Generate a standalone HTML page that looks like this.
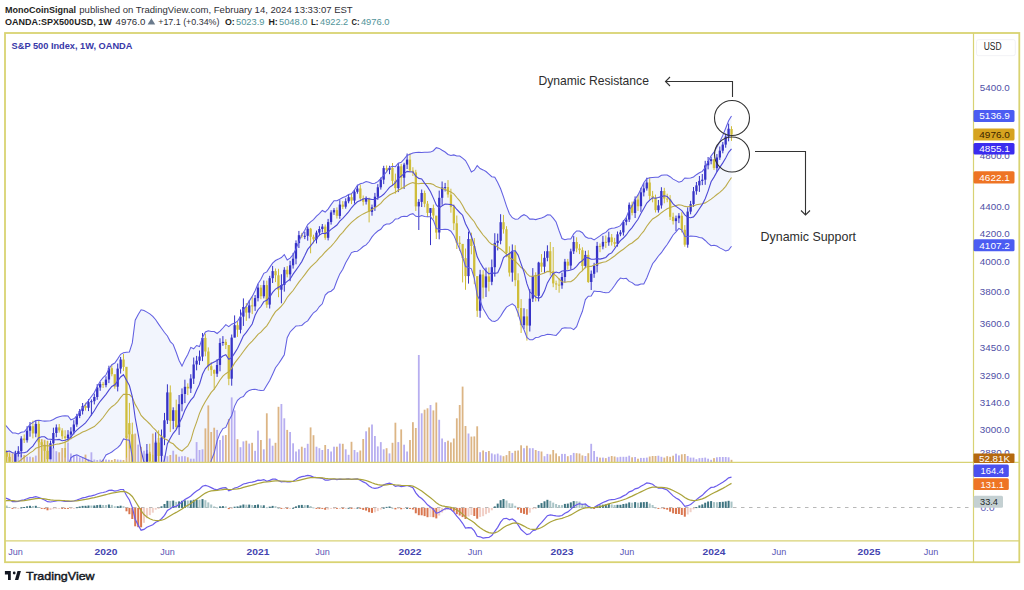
<!DOCTYPE html>
<html><head><meta charset="utf-8">
<style>
html,body{margin:0;padding:0;background:#fff;width:1024px;height:590px;overflow:hidden;}
body{position:relative;font-family:"Liberation Sans",sans-serif;}
svg{position:absolute;left:0;top:0;font-family:"Liberation Sans",sans-serif;}
.ax{font-size:9.5px;fill:#4f4fa6;}
.lt{font-size:9.3px;fill:#ffffff;}
.tm{font-size:9px;fill:#5a55b5;}
.yr{font-size:9px;fill:#4444b0;font-weight:bold;}
</style></head><body>
<svg width="1024" height="590" viewBox="0 0 1024 590">
<defs><clipPath id="cm"><rect x="5" y="34" width="968" height="428"/></clipPath>
<clipPath id="cd"><rect x="5" y="463" width="968" height="77"/></clipPath></defs>
<!-- header -->
<g font-size="9.7">
<text x="5" y="12.7" textLength="71" lengthAdjust="spacingAndGlyphs" font-weight="bold" fill="#1e1e22">MonoCoinSignal</text>
<text x="79.3" y="12.7" textLength="273.4" lengthAdjust="spacingAndGlyphs" fill="#2f2f36">published on TradingView.com, February 14, 2024 13:33:07 EST</text>
<text x="5" y="25.3" textLength="106.7" lengthAdjust="spacingAndGlyphs" font-weight="bold" fill="#1e1e22">OANDA:SPX500USD, 1W</text>
<text x="115.6" y="25.3" textLength="29.7" lengthAdjust="spacingAndGlyphs" fill="#2f2f36">4976.0</text>
<path d="M147.6 24.6 L151.4 18.2 L155.2 24.6 Z" fill="#6a7a8c"/>
<text x="158.2" y="25.3" textLength="61.3" lengthAdjust="spacingAndGlyphs" fill="#2f2f36">+17.1 (+0.34%)</text>
<text x="225" y="25.3" textLength="9.8" lengthAdjust="spacingAndGlyphs" font-weight="bold" fill="#1e1e22">O:</text>
<text x="236" y="25.3" textLength="28.5" lengthAdjust="spacingAndGlyphs" fill="#52959a">5023.9</text>
<text x="268.4" y="25.3" textLength="9.3" lengthAdjust="spacingAndGlyphs" font-weight="bold" fill="#1e1e22">H:</text>
<text x="279" y="25.3" textLength="28.5" lengthAdjust="spacingAndGlyphs" fill="#52959a">5048.0</text>
<text x="311" y="25.3" textLength="7.5" lengthAdjust="spacingAndGlyphs" font-weight="bold" fill="#1e1e22">L:</text>
<text x="320" y="25.3" textLength="28.2" lengthAdjust="spacingAndGlyphs" fill="#52959a">4922.2</text>
<text x="351.5" y="25.3" textLength="8" lengthAdjust="spacingAndGlyphs" font-weight="bold" fill="#1e1e22">C:</text>
<text x="360.9" y="25.3" textLength="28.7" lengthAdjust="spacingAndGlyphs" fill="#52959a">4976.0</text>
</g>
<g clip-path="url(#cm)">
<path d="M0.8,420.9 L3.7,423.5 L6.6,426.3 L9.5,429.9 L12.5,432.9 L15.4,433.1 L18.3,434.0 L21.2,432.3 L24.2,431.8 L27.1,428.4 L30.0,424.4 L32.9,422.4 L35.8,420.5 L38.8,420.2 L41.7,420.8 L44.6,421.1 L47.5,420.9 L50.5,420.7 L53.4,419.5 L56.3,417.8 L59.2,416.7 L62.2,416.1 L65.1,415.8 L68.0,416.0 L70.9,419.8 L73.8,418.8 L76.8,416.1 L79.7,412.2 L82.6,407.6 L85.5,404.3 L88.5,400.5 L91.4,396.5 L94.3,392.5 L97.2,386.7 L100.2,381.3 L103.1,377.6 L106.0,374.8 L108.9,368.9 L111.8,364.7 L114.8,363.0 L117.7,358.9 L120.6,354.3 L123.5,352.7 L126.5,352.3 L129.4,352.0 L132.3,342.9 L135.2,320.2 L138.2,314.5 L141.1,309.8 L144.0,310.5 L146.9,312.1 L149.8,313.9 L152.8,316.3 L155.7,319.7 L158.6,324.1 L161.5,328.3 L164.5,332.5 L167.4,336.0 L170.3,341.6 L173.2,344.5 L176.2,352.3 L179.1,360.5 L182.0,366.1 L184.9,359.8 L187.8,354.5 L190.8,347.4 L193.7,348.8 L196.6,345.5 L199.5,346.6 L202.5,337.5 L205.4,332.0 L208.3,330.7 L211.2,331.4 L214.2,331.5 L217.1,333.5 L220.0,331.1 L222.9,328.0 L225.8,324.6 L228.8,326.7 L231.7,324.2 L234.6,323.1 L237.5,321.2 L240.5,316.3 L243.4,309.7 L246.3,306.1 L249.2,301.1 L252.2,296.4 L255.1,290.8 L258.0,283.7 L260.9,279.3 L263.8,273.3 L266.8,271.9 L269.7,267.4 L272.6,263.2 L275.5,260.5 L278.5,259.1 L281.4,257.5 L284.3,254.6 L287.2,259.9 L290.1,258.1 L293.1,254.6 L296.0,249.0 L298.9,241.4 L301.8,234.9 L304.8,230.2 L307.7,224.5 L310.6,221.8 L313.5,219.6 L316.5,216.2 L319.4,213.6 L322.3,210.5 L325.2,212.0 L328.1,209.1 L331.1,204.6 L334.0,200.7 L336.9,200.7 L339.8,199.3 L342.8,197.5 L345.7,196.5 L348.6,194.6 L351.5,193.7 L354.5,189.8 L357.4,185.5 L360.3,183.8 L363.2,183.0 L366.1,181.6 L369.1,182.3 L372.0,183.5 L374.9,183.3 L377.8,181.6 L380.8,178.6 L383.7,175.4 L386.6,171.7 L389.5,167.5 L392.5,166.3 L395.4,166.7 L398.3,163.2 L401.2,162.3 L404.1,159.2 L407.1,155.4 L410.0,154.2 L412.9,153.1 L415.8,152.4 L418.8,152.3 L421.7,152.5 L424.6,152.3 L427.5,152.2 L430.5,152.1 L433.4,150.7 L436.3,147.7 L439.2,148.4 L442.1,150.3 L445.1,152.0 L448.0,154.5 L450.9,155.4 L453.8,154.9 L456.8,155.9 L459.7,156.1 L462.6,158.1 L465.5,160.6 L468.5,166.1 L471.4,171.9 L474.3,170.2 L477.2,165.7 L480.1,168.6 L483.1,169.9 L486.0,171.5 L488.9,174.1 L491.8,176.7 L494.8,177.3 L497.7,182.5 L500.6,188.8 L503.5,196.9 L506.5,206.1 L509.4,213.7 L512.3,217.7 L515.2,219.3 L518.1,219.1 L521.1,216.3 L524.0,214.7 L526.9,216.1 L529.8,219.1 L532.8,219.1 L535.7,219.6 L538.6,218.8 L541.5,218.0 L544.5,216.8 L547.4,214.8 L550.3,215.0 L553.2,218.1 L556.1,222.0 L559.1,230.7 L562.0,238.5 L564.9,239.8 L567.8,239.1 L570.8,239.0 L573.7,233.9 L576.6,231.0 L579.5,231.0 L582.4,232.7 L585.4,236.8 L588.3,238.3 L591.2,238.3 L594.1,240.0 L597.1,237.9 L600.0,235.9 L602.9,233.7 L605.8,232.4 L608.8,229.3 L611.7,228.2 L614.6,228.0 L617.5,227.1 L620.4,225.6 L623.4,221.2 L626.3,217.2 L629.2,209.9 L632.1,206.0 L635.1,199.3 L638.0,194.9 L640.9,189.0 L643.8,182.7 L646.8,178.7 L649.7,177.8 L652.6,177.5 L655.5,177.3 L658.4,177.2 L661.4,175.3 L664.3,175.1 L667.2,175.0 L670.1,176.7 L673.1,179.1 L676.0,180.6 L678.9,182.2 L681.8,181.3 L684.8,178.0 L687.7,178.3 L690.6,178.0 L693.5,177.0 L696.4,174.7 L699.4,172.8 L702.3,171.4 L705.2,167.6 L708.1,161.6 L711.1,155.8 L714.0,152.2 L716.9,147.1 L719.8,141.7 L722.8,135.4 L725.7,128.2 L728.6,120.7 L731.5,116.0 L731.5,246.3 L728.6,250.1 L725.7,250.9 L722.8,249.4 L719.8,247.9 L716.9,246.0 L714.0,245.3 L711.1,245.7 L708.1,243.4 L705.2,240.5 L702.3,238.1 L699.4,237.4 L696.4,236.6 L693.5,236.3 L690.6,236.1 L687.7,236.7 L684.8,236.2 L681.8,230.1 L678.9,228.4 L676.0,231.8 L673.1,235.0 L670.1,239.9 L667.2,244.5 L664.3,248.4 L661.4,252.7 L658.4,256.0 L655.5,260.1 L652.6,263.7 L649.7,270.6 L646.8,278.0 L643.8,284.0 L640.9,284.0 L638.0,285.1 L635.1,284.9 L632.1,282.6 L629.2,281.4 L626.3,278.3 L623.4,278.7 L620.4,278.1 L617.5,281.1 L614.6,285.5 L611.7,289.5 L608.8,292.6 L605.8,292.8 L602.9,292.3 L600.0,291.6 L597.1,291.5 L594.1,291.0 L591.2,295.9 L588.3,296.2 L585.4,299.6 L582.4,311.3 L579.5,318.6 L576.6,326.6 L573.7,329.6 L570.8,327.9 L567.8,327.9 L564.9,327.8 L562.0,328.4 L559.1,332.2 L556.1,335.4 L553.2,335.1 L550.3,334.4 L547.4,334.2 L544.5,335.2 L541.5,335.8 L538.6,337.2 L535.7,337.5 L532.8,339.7 L529.8,339.8 L526.9,337.4 L524.0,329.8 L521.1,323.5 L518.1,313.2 L515.2,306.1 L512.3,303.9 L509.4,305.4 L506.5,307.1 L503.5,311.4 L500.6,316.2 L497.7,319.9 L494.8,321.4 L491.8,321.0 L488.9,318.5 L486.0,313.4 L483.1,308.4 L480.1,300.7 L477.2,295.2 L474.3,278.3 L471.4,268.8 L468.5,267.6 L465.5,266.5 L462.6,256.9 L459.7,249.2 L456.8,242.4 L453.8,235.4 L450.9,231.2 L448.0,229.5 L445.1,229.4 L442.1,229.5 L439.2,229.5 L436.3,228.4 L433.4,220.3 L430.5,216.8 L427.5,216.7 L424.6,216.4 L421.7,215.6 L418.8,216.8 L415.8,216.3 L412.9,213.7 L410.0,214.6 L407.1,216.4 L404.1,216.2 L401.2,216.7 L398.3,218.7 L395.4,218.9 L392.5,222.2 L389.5,224.0 L386.6,224.1 L383.7,225.5 L380.8,229.3 L377.8,231.0 L374.9,233.5 L372.0,236.9 L369.1,241.5 L366.1,244.9 L363.2,246.5 L360.3,249.2 L357.4,251.2 L354.5,251.4 L351.5,252.6 L348.6,257.7 L345.7,262.7 L342.8,269.3 L339.8,273.9 L336.9,280.8 L334.0,288.6 L331.1,291.2 L328.1,292.3 L325.2,295.0 L322.3,303.8 L319.4,306.5 L316.5,310.7 L313.5,312.8 L310.6,316.6 L307.7,320.9 L304.8,322.6 L301.8,325.5 L298.9,325.8 L296.0,326.0 L293.1,328.9 L290.1,332.0 L287.2,337.7 L284.3,354.7 L281.4,359.4 L278.5,363.7 L275.5,367.8 L272.6,374.3 L269.7,380.5 L266.8,385.2 L263.8,390.3 L260.9,390.5 L258.0,389.9 L255.1,389.2 L252.2,389.4 L249.2,390.4 L246.3,392.5 L243.4,396.5 L240.5,397.6 L237.5,400.3 L234.6,406.1 L231.7,415.6 L228.8,420.5 L225.8,427.4 L222.9,428.6 L220.0,433.4 L217.1,440.9 L214.2,453.0 L211.2,460.6 L208.3,471.6 L205.4,480.5 L202.5,485.2 L199.5,488.9 L196.6,510.3 L193.7,524.6 L190.8,551.0 L187.8,554.3 L184.9,552.8 L182.0,550.6 L179.1,554.6 L176.2,560.2 L173.2,563.7 L170.3,564.8 L167.4,566.8 L164.5,568.7 L161.5,569.6 L158.6,569.1 L155.7,566.4 L152.8,564.6 L149.8,560.0 L146.9,555.3 L144.0,551.3 L141.1,544.7 L138.2,523.2 L135.2,502.8 L132.3,457.4 L129.4,440.3 L126.5,439.7 L123.5,438.9 L120.6,444.6 L117.7,447.7 L114.8,449.6 L111.8,452.0 L108.9,453.6 L106.0,454.9 L103.1,460.2 L100.2,463.1 L97.2,463.5 L94.3,462.8 L91.4,461.3 L88.5,460.4 L85.5,458.7 L82.6,457.6 L79.7,456.3 L76.8,454.9 L73.8,455.7 L70.9,457.7 L68.0,466.6 L65.1,469.8 L62.2,471.4 L59.2,472.4 L56.3,472.2 L53.4,471.7 L50.5,471.9 L47.5,472.1 L44.6,470.9 L41.7,472.4 L38.8,475.5 L35.8,477.6 L32.9,481.4 L30.0,482.8 L27.1,483.1 L24.2,484.0 L21.2,488.4 L18.3,491.9 L15.4,497.6 L12.5,502.3 L9.5,509.2 L6.6,519.9 L3.7,531.9 L0.8,546.0 Z" fill="#f2f5fd"/>
<rect x="-0.1" y="450.0" width="1.8" height="12.0" fill="#b7aef0"/>
<rect x="2.8" y="447.9" width="1.8" height="14.1" fill="#dcb585"/>
<rect x="5.7" y="451.2" width="1.8" height="10.8" fill="#dcb585"/>
<rect x="8.6" y="452.3" width="1.8" height="9.7" fill="#dcb585"/>
<rect x="11.6" y="453.4" width="1.8" height="8.6" fill="#dcb585"/>
<rect x="14.5" y="451.2" width="1.8" height="10.8" fill="#b7aef0"/>
<rect x="17.4" y="454.5" width="1.8" height="7.5" fill="#b7aef0"/>
<rect x="20.3" y="454.5" width="1.8" height="7.5" fill="#b7aef0"/>
<rect x="23.3" y="455.0" width="1.8" height="7.0" fill="#dcb585"/>
<rect x="26.2" y="456.7" width="1.8" height="5.3" fill="#b7aef0"/>
<rect x="29.1" y="456.7" width="1.8" height="5.3" fill="#b7aef0"/>
<rect x="32.0" y="457.3" width="1.8" height="4.7" fill="#dcb585"/>
<rect x="34.9" y="455.6" width="1.8" height="6.4" fill="#b7aef0"/>
<rect x="37.9" y="439.1" width="1.8" height="22.9" fill="#dcb585"/>
<rect x="40.8" y="439.1" width="1.8" height="22.9" fill="#dcb585"/>
<rect x="43.7" y="439.7" width="1.8" height="22.3" fill="#dcb585"/>
<rect x="46.6" y="440.9" width="1.8" height="21.1" fill="#dcb585"/>
<rect x="49.6" y="448.0" width="1.8" height="14.0" fill="#b7aef0"/>
<rect x="52.5" y="448.0" width="1.8" height="14.0" fill="#b7aef0"/>
<rect x="55.4" y="451.2" width="1.8" height="10.8" fill="#b7aef0"/>
<rect x="58.3" y="452.3" width="1.8" height="9.7" fill="#dcb585"/>
<rect x="61.3" y="448.0" width="1.8" height="14.0" fill="#dcb585"/>
<rect x="64.2" y="448.0" width="1.8" height="14.0" fill="#dcb585"/>
<rect x="67.1" y="442.5" width="1.8" height="19.5" fill="#b7aef0"/>
<rect x="70.0" y="453.5" width="1.8" height="8.5" fill="#b7aef0"/>
<rect x="72.9" y="455.0" width="1.8" height="7.0" fill="#b7aef0"/>
<rect x="75.9" y="455.6" width="1.8" height="6.4" fill="#b7aef0"/>
<rect x="78.8" y="457.3" width="1.8" height="4.7" fill="#b7aef0"/>
<rect x="81.7" y="457.3" width="1.8" height="4.7" fill="#b7aef0"/>
<rect x="84.6" y="454.6" width="1.8" height="7.4" fill="#dcb585"/>
<rect x="87.6" y="459.0" width="1.8" height="3.0" fill="#b7aef0"/>
<rect x="90.5" y="452.3" width="1.8" height="9.7" fill="#b7aef0"/>
<rect x="93.4" y="459.5" width="1.8" height="2.5" fill="#b7aef0"/>
<rect x="96.3" y="460.0" width="1.8" height="2.0" fill="#b7aef0"/>
<rect x="99.3" y="459.5" width="1.8" height="2.5" fill="#b7aef0"/>
<rect x="102.2" y="459.5" width="1.8" height="2.5" fill="#dcb585"/>
<rect x="105.1" y="459.5" width="1.8" height="2.5" fill="#b7aef0"/>
<rect x="108.0" y="459.8" width="1.8" height="2.2" fill="#b7aef0"/>
<rect x="110.9" y="460.0" width="1.8" height="2.0" fill="#dcb585"/>
<rect x="113.9" y="459.0" width="1.8" height="3.0" fill="#dcb585"/>
<rect x="116.8" y="459.5" width="1.8" height="2.5" fill="#b7aef0"/>
<rect x="119.7" y="459.8" width="1.8" height="2.2" fill="#b7aef0"/>
<rect x="122.6" y="460.0" width="1.8" height="2.0" fill="#dcb585"/>
<rect x="125.6" y="436.0" width="1.8" height="26.0" fill="#dcb585"/>
<rect x="128.5" y="431.4" width="1.8" height="30.6" fill="#dcb585"/>
<rect x="131.4" y="435.2" width="1.8" height="26.8" fill="#dcb585"/>
<rect x="134.3" y="433.6" width="1.8" height="28.4" fill="#dcb585"/>
<rect x="137.3" y="444.6" width="1.8" height="17.4" fill="#b7aef0"/>
<rect x="140.2" y="446.8" width="1.8" height="15.2" fill="#dcb585"/>
<rect x="143.1" y="450.7" width="1.8" height="11.3" fill="#b7aef0"/>
<rect x="146.0" y="450.1" width="1.8" height="11.9" fill="#b7aef0"/>
<rect x="148.9" y="451.8" width="1.8" height="10.2" fill="#dcb585"/>
<rect x="151.9" y="433.6" width="1.8" height="28.4" fill="#dcb585"/>
<rect x="154.8" y="440.7" width="1.8" height="21.3" fill="#b7aef0"/>
<rect x="157.7" y="438.0" width="1.8" height="24.0" fill="#dcb585"/>
<rect x="160.6" y="435.8" width="1.8" height="26.2" fill="#b7aef0"/>
<rect x="163.6" y="455.6" width="1.8" height="6.4" fill="#b7aef0"/>
<rect x="166.5" y="456.2" width="1.8" height="5.8" fill="#b7aef0"/>
<rect x="169.4" y="455.0" width="1.8" height="7.0" fill="#dcb585"/>
<rect x="172.3" y="450.7" width="1.8" height="11.3" fill="#b7aef0"/>
<rect x="175.3" y="454.5" width="1.8" height="7.5" fill="#dcb585"/>
<rect x="178.2" y="456.7" width="1.8" height="5.3" fill="#b7aef0"/>
<rect x="181.1" y="456.2" width="1.8" height="5.8" fill="#b7aef0"/>
<rect x="184.0" y="456.2" width="1.8" height="5.8" fill="#b7aef0"/>
<rect x="186.9" y="457.3" width="1.8" height="4.7" fill="#dcb585"/>
<rect x="189.9" y="458.7" width="1.8" height="3.3" fill="#b7aef0"/>
<rect x="192.8" y="458.7" width="1.8" height="3.3" fill="#b7aef0"/>
<rect x="195.7" y="442.1" width="1.8" height="19.9" fill="#b7aef0"/>
<rect x="198.6" y="450.0" width="1.8" height="12.0" fill="#b7aef0"/>
<rect x="201.6" y="449.3" width="1.8" height="12.7" fill="#b7aef0"/>
<rect x="204.5" y="428.4" width="1.8" height="33.6" fill="#dcb585"/>
<rect x="207.4" y="405.4" width="1.8" height="56.6" fill="#dcb585"/>
<rect x="210.3" y="432.0" width="1.8" height="30.0" fill="#dcb585"/>
<rect x="213.3" y="427.7" width="1.8" height="34.3" fill="#dcb585"/>
<rect x="216.2" y="429.9" width="1.8" height="32.1" fill="#b7aef0"/>
<rect x="219.1" y="440.0" width="1.8" height="22.0" fill="#b7aef0"/>
<rect x="222.0" y="435.6" width="1.8" height="26.4" fill="#b7aef0"/>
<rect x="224.9" y="435.0" width="1.8" height="27.0" fill="#dcb585"/>
<rect x="227.9" y="419.0" width="1.8" height="43.0" fill="#dcb585"/>
<rect x="230.8" y="397.4" width="1.8" height="64.6" fill="#b7aef0"/>
<rect x="233.7" y="410.4" width="1.8" height="51.6" fill="#b7aef0"/>
<rect x="236.6" y="439.2" width="1.8" height="22.8" fill="#dcb585"/>
<rect x="239.6" y="447.2" width="1.8" height="14.8" fill="#b7aef0"/>
<rect x="242.5" y="441.4" width="1.8" height="20.6" fill="#b7aef0"/>
<rect x="245.4" y="440.7" width="1.8" height="21.3" fill="#dcb585"/>
<rect x="248.3" y="443.6" width="1.8" height="18.4" fill="#b7aef0"/>
<rect x="251.2" y="442.8" width="1.8" height="19.2" fill="#dcb585"/>
<rect x="254.2" y="450.8" width="1.8" height="11.2" fill="#b7aef0"/>
<rect x="257.1" y="430.6" width="1.8" height="31.4" fill="#b7aef0"/>
<rect x="260.0" y="440.0" width="1.8" height="22.0" fill="#dcb585"/>
<rect x="262.9" y="449.3" width="1.8" height="12.7" fill="#b7aef0"/>
<rect x="265.9" y="413.3" width="1.8" height="48.7" fill="#dcb585"/>
<rect x="268.8" y="438.5" width="1.8" height="23.5" fill="#b7aef0"/>
<rect x="271.7" y="445.7" width="1.8" height="16.3" fill="#b7aef0"/>
<rect x="274.6" y="442.8" width="1.8" height="19.2" fill="#dcb585"/>
<rect x="277.6" y="406.8" width="1.8" height="55.2" fill="#dcb585"/>
<rect x="280.5" y="404.0" width="1.8" height="58.0" fill="#b7aef0"/>
<rect x="283.4" y="418.3" width="1.8" height="43.7" fill="#b7aef0"/>
<rect x="286.3" y="429.9" width="1.8" height="32.1" fill="#dcb585"/>
<rect x="289.2" y="432.0" width="1.8" height="30.0" fill="#b7aef0"/>
<rect x="292.2" y="443.3" width="1.8" height="18.7" fill="#b7aef0"/>
<rect x="295.1" y="451.5" width="1.8" height="10.5" fill="#b7aef0"/>
<rect x="298.0" y="449.3" width="1.8" height="12.7" fill="#b7aef0"/>
<rect x="300.9" y="446.7" width="1.8" height="15.3" fill="#dcb585"/>
<rect x="303.9" y="447.9" width="1.8" height="14.1" fill="#b7aef0"/>
<rect x="306.8" y="443.8" width="1.8" height="18.2" fill="#b7aef0"/>
<rect x="309.7" y="427.4" width="1.8" height="34.6" fill="#dcb585"/>
<rect x="312.6" y="435.2" width="1.8" height="26.8" fill="#dcb585"/>
<rect x="315.6" y="446.7" width="1.8" height="15.3" fill="#b7aef0"/>
<rect x="318.5" y="448.2" width="1.8" height="13.8" fill="#b7aef0"/>
<rect x="321.4" y="450.0" width="1.8" height="12.0" fill="#b7aef0"/>
<rect x="324.3" y="445.0" width="1.8" height="17.0" fill="#dcb585"/>
<rect x="327.2" y="449.0" width="1.8" height="13.0" fill="#b7aef0"/>
<rect x="330.2" y="451.5" width="1.8" height="10.5" fill="#b7aef0"/>
<rect x="333.1" y="446.7" width="1.8" height="15.3" fill="#b7aef0"/>
<rect x="336.0" y="446.7" width="1.8" height="15.3" fill="#dcb585"/>
<rect x="338.9" y="443.6" width="1.8" height="18.4" fill="#b7aef0"/>
<rect x="341.9" y="443.8" width="1.8" height="18.2" fill="#dcb585"/>
<rect x="344.8" y="449.3" width="1.8" height="12.7" fill="#b7aef0"/>
<rect x="347.7" y="454.8" width="1.8" height="7.2" fill="#b7aef0"/>
<rect x="350.6" y="441.8" width="1.8" height="20.2" fill="#dcb585"/>
<rect x="353.6" y="450.0" width="1.8" height="12.0" fill="#b7aef0"/>
<rect x="356.5" y="452.2" width="1.8" height="9.8" fill="#b7aef0"/>
<rect x="359.4" y="450.5" width="1.8" height="11.5" fill="#dcb585"/>
<rect x="362.3" y="439.0" width="1.8" height="23.0" fill="#dcb585"/>
<rect x="365.2" y="431.3" width="1.8" height="30.7" fill="#b7aef0"/>
<rect x="368.2" y="427.4" width="1.8" height="34.6" fill="#dcb585"/>
<rect x="371.1" y="424.5" width="1.8" height="37.5" fill="#b7aef0"/>
<rect x="374.0" y="436.0" width="1.8" height="26.0" fill="#b7aef0"/>
<rect x="376.9" y="446.4" width="1.8" height="15.6" fill="#b7aef0"/>
<rect x="379.9" y="442.1" width="1.8" height="19.9" fill="#b7aef0"/>
<rect x="382.8" y="449.3" width="1.8" height="12.7" fill="#b7aef0"/>
<rect x="385.7" y="448.2" width="1.8" height="13.8" fill="#dcb585"/>
<rect x="388.6" y="453.4" width="1.8" height="8.6" fill="#b7aef0"/>
<rect x="391.6" y="442.8" width="1.8" height="19.2" fill="#dcb585"/>
<rect x="394.5" y="422.7" width="1.8" height="39.3" fill="#dcb585"/>
<rect x="397.4" y="442.1" width="1.8" height="19.9" fill="#b7aef0"/>
<rect x="400.3" y="429.4" width="1.8" height="32.6" fill="#dcb585"/>
<rect x="403.2" y="444.7" width="1.8" height="17.3" fill="#b7aef0"/>
<rect x="406.2" y="451.5" width="1.8" height="10.5" fill="#b7aef0"/>
<rect x="409.1" y="440.0" width="1.8" height="22.0" fill="#dcb585"/>
<rect x="412.0" y="422.2" width="1.8" height="39.8" fill="#dcb585"/>
<rect x="414.9" y="428.0" width="1.8" height="34.0" fill="#dcb585"/>
<rect x="417.9" y="355.0" width="1.8" height="107.0" fill="#b7aef0"/>
<rect x="420.8" y="413.3" width="1.8" height="48.7" fill="#b7aef0"/>
<rect x="423.7" y="409.7" width="1.8" height="52.3" fill="#dcb585"/>
<rect x="426.6" y="408.3" width="1.8" height="53.7" fill="#dcb585"/>
<rect x="429.6" y="405.0" width="1.8" height="57.0" fill="#b7aef0"/>
<rect x="432.5" y="410.4" width="1.8" height="51.6" fill="#dcb585"/>
<rect x="435.4" y="402.5" width="1.8" height="59.5" fill="#dcb585"/>
<rect x="438.3" y="419.8" width="1.8" height="42.2" fill="#b7aef0"/>
<rect x="441.2" y="438.5" width="1.8" height="23.5" fill="#b7aef0"/>
<rect x="444.2" y="442.1" width="1.8" height="19.9" fill="#b7aef0"/>
<rect x="447.1" y="440.7" width="1.8" height="21.3" fill="#dcb585"/>
<rect x="450.0" y="442.4" width="1.8" height="19.6" fill="#dcb585"/>
<rect x="452.9" y="438.5" width="1.8" height="23.5" fill="#dcb585"/>
<rect x="455.9" y="418.3" width="1.8" height="43.7" fill="#dcb585"/>
<rect x="458.8" y="405.0" width="1.8" height="57.0" fill="#dcb585"/>
<rect x="461.7" y="386.6" width="1.8" height="75.4" fill="#dcb585"/>
<rect x="464.6" y="426.0" width="1.8" height="36.0" fill="#dcb585"/>
<rect x="467.6" y="433.5" width="1.8" height="28.5" fill="#b7aef0"/>
<rect x="470.5" y="436.6" width="1.8" height="25.4" fill="#dcb585"/>
<rect x="473.4" y="436.4" width="1.8" height="25.6" fill="#dcb585"/>
<rect x="476.3" y="426.3" width="1.8" height="35.7" fill="#dcb585"/>
<rect x="479.2" y="452.2" width="1.8" height="9.8" fill="#b7aef0"/>
<rect x="482.2" y="450.5" width="1.8" height="11.5" fill="#dcb585"/>
<rect x="485.1" y="452.0" width="1.8" height="10.0" fill="#b7aef0"/>
<rect x="488.0" y="451.0" width="1.8" height="11.0" fill="#dcb585"/>
<rect x="490.9" y="453.4" width="1.8" height="8.6" fill="#b7aef0"/>
<rect x="493.9" y="454.4" width="1.8" height="7.6" fill="#b7aef0"/>
<rect x="496.8" y="453.6" width="1.8" height="8.4" fill="#b7aef0"/>
<rect x="499.7" y="455.4" width="1.8" height="6.6" fill="#b7aef0"/>
<rect x="502.6" y="456.2" width="1.8" height="5.8" fill="#dcb585"/>
<rect x="505.6" y="455.1" width="1.8" height="6.9" fill="#dcb585"/>
<rect x="508.5" y="451.0" width="1.8" height="11.0" fill="#dcb585"/>
<rect x="511.4" y="452.9" width="1.8" height="9.1" fill="#b7aef0"/>
<rect x="514.3" y="450.8" width="1.8" height="11.2" fill="#dcb585"/>
<rect x="517.2" y="450.5" width="1.8" height="11.5" fill="#dcb585"/>
<rect x="520.2" y="445.3" width="1.8" height="16.7" fill="#dcb585"/>
<rect x="523.1" y="448.2" width="1.8" height="13.8" fill="#b7aef0"/>
<rect x="526.0" y="445.7" width="1.8" height="16.3" fill="#dcb585"/>
<rect x="528.9" y="448.2" width="1.8" height="13.8" fill="#b7aef0"/>
<rect x="531.9" y="448.2" width="1.8" height="13.8" fill="#b7aef0"/>
<rect x="534.8" y="450.0" width="1.8" height="12.0" fill="#dcb585"/>
<rect x="537.7" y="451.0" width="1.8" height="11.0" fill="#b7aef0"/>
<rect x="540.6" y="451.5" width="1.8" height="10.5" fill="#dcb585"/>
<rect x="543.6" y="456.2" width="1.8" height="5.8" fill="#b7aef0"/>
<rect x="546.5" y="453.9" width="1.8" height="8.1" fill="#b7aef0"/>
<rect x="549.4" y="454.4" width="1.8" height="7.6" fill="#dcb585"/>
<rect x="552.3" y="450.0" width="1.8" height="12.0" fill="#dcb585"/>
<rect x="555.2" y="453.4" width="1.8" height="8.6" fill="#dcb585"/>
<rect x="558.2" y="456.2" width="1.8" height="5.8" fill="#dcb585"/>
<rect x="561.1" y="453.9" width="1.8" height="8.1" fill="#b7aef0"/>
<rect x="564.0" y="453.9" width="1.8" height="8.1" fill="#b7aef0"/>
<rect x="566.9" y="456.2" width="1.8" height="5.8" fill="#dcb585"/>
<rect x="569.9" y="455.1" width="1.8" height="6.9" fill="#b7aef0"/>
<rect x="572.8" y="452.9" width="1.8" height="9.1" fill="#b7aef0"/>
<rect x="575.7" y="453.2" width="1.8" height="8.8" fill="#dcb585"/>
<rect x="578.6" y="453.5" width="1.8" height="8.5" fill="#dcb585"/>
<rect x="581.5" y="455.4" width="1.8" height="6.6" fill="#dcb585"/>
<rect x="584.5" y="456.0" width="1.8" height="6.0" fill="#b7aef0"/>
<rect x="587.4" y="453.2" width="1.8" height="8.8" fill="#dcb585"/>
<rect x="590.3" y="443.8" width="1.8" height="18.2" fill="#b7aef0"/>
<rect x="593.2" y="451.0" width="1.8" height="11.0" fill="#b7aef0"/>
<rect x="596.2" y="456.8" width="1.8" height="5.2" fill="#b7aef0"/>
<rect x="599.1" y="457.6" width="1.8" height="4.4" fill="#dcb585"/>
<rect x="602.0" y="457.6" width="1.8" height="4.4" fill="#b7aef0"/>
<rect x="604.9" y="458.1" width="1.8" height="3.9" fill="#dcb585"/>
<rect x="607.9" y="456.8" width="1.8" height="5.2" fill="#b7aef0"/>
<rect x="610.8" y="456.0" width="1.8" height="6.0" fill="#dcb585"/>
<rect x="613.7" y="456.5" width="1.8" height="5.5" fill="#dcb585"/>
<rect x="616.6" y="457.3" width="1.8" height="4.7" fill="#b7aef0"/>
<rect x="619.5" y="456.8" width="1.8" height="5.2" fill="#b7aef0"/>
<rect x="622.5" y="456.8" width="1.8" height="5.2" fill="#b7aef0"/>
<rect x="625.4" y="456.8" width="1.8" height="5.2" fill="#b7aef0"/>
<rect x="628.3" y="455.7" width="1.8" height="6.3" fill="#b7aef0"/>
<rect x="631.2" y="457.3" width="1.8" height="4.7" fill="#dcb585"/>
<rect x="634.2" y="457.0" width="1.8" height="5.0" fill="#b7aef0"/>
<rect x="637.1" y="458.7" width="1.8" height="3.3" fill="#dcb585"/>
<rect x="640.0" y="457.9" width="1.8" height="4.1" fill="#b7aef0"/>
<rect x="642.9" y="457.9" width="1.8" height="4.1" fill="#b7aef0"/>
<rect x="645.9" y="457.6" width="1.8" height="4.4" fill="#b7aef0"/>
<rect x="648.8" y="456.5" width="1.8" height="5.5" fill="#dcb585"/>
<rect x="651.7" y="456.0" width="1.8" height="6.0" fill="#dcb585"/>
<rect x="654.6" y="456.0" width="1.8" height="6.0" fill="#dcb585"/>
<rect x="657.5" y="455.7" width="1.8" height="6.3" fill="#b7aef0"/>
<rect x="660.5" y="456.8" width="1.8" height="5.2" fill="#b7aef0"/>
<rect x="663.4" y="457.6" width="1.8" height="4.4" fill="#dcb585"/>
<rect x="666.3" y="456.2" width="1.8" height="5.8" fill="#dcb585"/>
<rect x="669.2" y="456.8" width="1.8" height="5.2" fill="#dcb585"/>
<rect x="672.2" y="455.7" width="1.8" height="6.3" fill="#dcb585"/>
<rect x="675.1" y="453.7" width="1.8" height="8.3" fill="#b7aef0"/>
<rect x="678.0" y="455.4" width="1.8" height="6.6" fill="#b7aef0"/>
<rect x="680.9" y="454.3" width="1.8" height="7.7" fill="#dcb585"/>
<rect x="683.9" y="454.0" width="1.8" height="8.0" fill="#dcb585"/>
<rect x="686.8" y="456.0" width="1.8" height="6.0" fill="#b7aef0"/>
<rect x="689.7" y="457.6" width="1.8" height="4.4" fill="#b7aef0"/>
<rect x="692.6" y="457.6" width="1.8" height="4.4" fill="#b7aef0"/>
<rect x="695.5" y="459.2" width="1.8" height="2.8" fill="#b7aef0"/>
<rect x="698.5" y="458.1" width="1.8" height="3.9" fill="#b7aef0"/>
<rect x="701.4" y="457.9" width="1.8" height="4.1" fill="#b7aef0"/>
<rect x="704.3" y="457.6" width="1.8" height="4.4" fill="#b7aef0"/>
<rect x="707.2" y="458.7" width="1.8" height="3.3" fill="#b7aef0"/>
<rect x="710.2" y="459.8" width="1.8" height="2.2" fill="#b7aef0"/>
<rect x="713.1" y="458.1" width="1.8" height="3.9" fill="#dcb585"/>
<rect x="716.0" y="457.3" width="1.8" height="4.7" fill="#b7aef0"/>
<rect x="718.9" y="457.0" width="1.8" height="5.0" fill="#b7aef0"/>
<rect x="721.9" y="457.0" width="1.8" height="5.0" fill="#b7aef0"/>
<rect x="724.8" y="457.0" width="1.8" height="5.0" fill="#b7aef0"/>
<rect x="727.7" y="457.3" width="1.8" height="4.7" fill="#b7aef0"/>
<rect x="730.6" y="459.8" width="1.8" height="2.2" fill="#dcb585"/>
<rect x="0.3" y="436.8" width="1" height="6.8" fill="#3632c6"/>
<rect x="-0.4" y="439.5" width="2.3" height="1.1" fill="#3632c6"/>
<rect x="3.2" y="436.5" width="1" height="18.1" fill="#cfbd3a"/>
<rect x="2.5" y="439.5" width="2.3" height="12.8" fill="#cfbd3a"/>
<rect x="6.1" y="450.2" width="1" height="18.6" fill="#cfbd3a"/>
<rect x="5.5" y="452.3" width="2.3" height="4.4" fill="#cfbd3a"/>
<rect x="9.0" y="453.8" width="1" height="12.8" fill="#cfbd3a"/>
<rect x="8.4" y="456.8" width="2.3" height="6.8" fill="#cfbd3a"/>
<rect x="12.0" y="461.4" width="1" height="19.8" fill="#cfbd3a"/>
<rect x="11.3" y="463.6" width="2.3" height="15.4" fill="#cfbd3a"/>
<rect x="14.9" y="450.7" width="1" height="31.3" fill="#3632c6"/>
<rect x="14.2" y="454.0" width="2.3" height="25.1" fill="#3632c6"/>
<rect x="17.8" y="446.2" width="1" height="10.4" fill="#3632c6"/>
<rect x="17.2" y="451.2" width="2.3" height="2.8" fill="#3632c6"/>
<rect x="20.7" y="436.2" width="1" height="21.1" fill="#3632c6"/>
<rect x="20.1" y="438.5" width="2.3" height="12.7" fill="#3632c6"/>
<rect x="23.7" y="434.4" width="1" height="8.6" fill="#cfbd3a"/>
<rect x="23.0" y="438.5" width="2.3" height="1.7" fill="#cfbd3a"/>
<rect x="26.6" y="426.2" width="1" height="16.4" fill="#3632c6"/>
<rect x="25.9" y="430.7" width="2.3" height="9.5" fill="#3632c6"/>
<rect x="29.5" y="422.0" width="1" height="14.7" fill="#3632c6"/>
<rect x="28.9" y="426.2" width="2.3" height="4.5" fill="#3632c6"/>
<rect x="32.4" y="420.6" width="1" height="17.8" fill="#cfbd3a"/>
<rect x="31.8" y="426.2" width="2.3" height="7.2" fill="#cfbd3a"/>
<rect x="35.3" y="420.6" width="1" height="16.6" fill="#3632c6"/>
<rect x="34.7" y="423.9" width="2.3" height="9.6" fill="#3632c6"/>
<rect x="38.3" y="420.9" width="1" height="26.8" fill="#cfbd3a"/>
<rect x="37.6" y="423.9" width="2.3" height="18.3" fill="#cfbd3a"/>
<rect x="41.2" y="439.6" width="1" height="24.8" fill="#cfbd3a"/>
<rect x="40.5" y="442.2" width="2.3" height="2.7" fill="#cfbd3a"/>
<rect x="44.1" y="440.6" width="1" height="23.2" fill="#cfbd3a"/>
<rect x="43.5" y="444.8" width="2.3" height="6.0" fill="#cfbd3a"/>
<rect x="47.0" y="440.8" width="1" height="21.2" fill="#cfbd3a"/>
<rect x="46.4" y="450.8" width="2.3" height="8.4" fill="#cfbd3a"/>
<rect x="50.0" y="440.6" width="1" height="17.5" fill="#3632c6"/>
<rect x="49.3" y="443.3" width="2.3" height="16.0" fill="#3632c6"/>
<rect x="52.9" y="427.7" width="1" height="20.6" fill="#3632c6"/>
<rect x="52.2" y="433.0" width="2.3" height="10.3" fill="#3632c6"/>
<rect x="55.8" y="424.4" width="1" height="12.8" fill="#3632c6"/>
<rect x="55.2" y="427.4" width="2.3" height="5.6" fill="#3632c6"/>
<rect x="58.7" y="424.0" width="1" height="8.6" fill="#cfbd3a"/>
<rect x="58.1" y="427.4" width="2.3" height="3.0" fill="#cfbd3a"/>
<rect x="61.7" y="428.2" width="1" height="11.1" fill="#cfbd3a"/>
<rect x="61.0" y="430.4" width="2.3" height="5.9" fill="#cfbd3a"/>
<rect x="64.6" y="430.2" width="1" height="27.3" fill="#cfbd3a"/>
<rect x="63.9" y="436.3" width="2.3" height="1.9" fill="#cfbd3a"/>
<rect x="67.5" y="430.1" width="1" height="11.3" fill="#3632c6"/>
<rect x="66.9" y="434.6" width="2.3" height="3.6" fill="#3632c6"/>
<rect x="70.4" y="427.2" width="1" height="12.0" fill="#3632c6"/>
<rect x="69.8" y="431.5" width="2.3" height="3.1" fill="#3632c6"/>
<rect x="73.3" y="420.2" width="1" height="14.2" fill="#3632c6"/>
<rect x="72.7" y="424.5" width="2.3" height="7.0" fill="#3632c6"/>
<rect x="76.3" y="413.8" width="1" height="13.0" fill="#3632c6"/>
<rect x="75.6" y="416.0" width="2.3" height="8.5" fill="#3632c6"/>
<rect x="79.2" y="409.0" width="1" height="9.1" fill="#3632c6"/>
<rect x="78.5" y="411.1" width="2.3" height="4.9" fill="#3632c6"/>
<rect x="82.1" y="403.0" width="1" height="11.5" fill="#3632c6"/>
<rect x="81.5" y="406.0" width="2.3" height="5.1" fill="#3632c6"/>
<rect x="85.0" y="402.7" width="1" height="7.8" fill="#cfbd3a"/>
<rect x="84.4" y="406.0" width="2.3" height="1.9" fill="#cfbd3a"/>
<rect x="88.0" y="399.2" width="1" height="11.9" fill="#3632c6"/>
<rect x="87.3" y="402.1" width="2.3" height="5.7" fill="#3632c6"/>
<rect x="90.9" y="399.4" width="1" height="16.1" fill="#3632c6"/>
<rect x="90.2" y="401.2" width="2.3" height="1.0" fill="#3632c6"/>
<rect x="93.8" y="393.6" width="1" height="10.8" fill="#3632c6"/>
<rect x="93.2" y="397.0" width="2.3" height="4.2" fill="#3632c6"/>
<rect x="96.7" y="384.1" width="1" height="15.7" fill="#3632c6"/>
<rect x="96.1" y="387.5" width="2.3" height="9.5" fill="#3632c6"/>
<rect x="99.7" y="382.0" width="1" height="8.8" fill="#3632c6"/>
<rect x="99.0" y="384.1" width="2.3" height="3.4" fill="#3632c6"/>
<rect x="102.6" y="381.9" width="1" height="6.1" fill="#cfbd3a"/>
<rect x="101.9" y="384.1" width="2.3" height="1.0" fill="#cfbd3a"/>
<rect x="105.5" y="376.3" width="1" height="11.0" fill="#3632c6"/>
<rect x="104.8" y="379.6" width="2.3" height="5.5" fill="#3632c6"/>
<rect x="108.4" y="365.7" width="1" height="17.4" fill="#3632c6"/>
<rect x="107.8" y="368.2" width="2.3" height="11.3" fill="#3632c6"/>
<rect x="111.3" y="364.9" width="1" height="11.4" fill="#cfbd3a"/>
<rect x="110.7" y="368.2" width="2.3" height="6.0" fill="#cfbd3a"/>
<rect x="114.3" y="376.1" width="1" height="12.7" fill="#cfbd3a"/>
<rect x="113.6" y="374.2" width="2.3" height="12.5" fill="#cfbd3a"/>
<rect x="117.2" y="363.5" width="1" height="27.9" fill="#3632c6"/>
<rect x="116.5" y="368.6" width="2.3" height="18.1" fill="#3632c6"/>
<rect x="120.1" y="356.9" width="1" height="16.7" fill="#3632c6"/>
<rect x="119.5" y="359.5" width="2.3" height="9.1" fill="#3632c6"/>
<rect x="123.0" y="354.0" width="1" height="17.1" fill="#cfbd3a"/>
<rect x="122.4" y="359.5" width="2.3" height="7.4" fill="#cfbd3a"/>
<rect x="126.0" y="380.6" width="1" height="77.0" fill="#cfbd3a"/>
<rect x="125.3" y="366.8" width="2.3" height="71.0" fill="#cfbd3a"/>
<rect x="128.9" y="402.9" width="1" height="45.6" fill="#cfbd3a"/>
<rect x="128.2" y="423.1" width="2.3" height="11.2" fill="#cfbd3a"/>
<rect x="131.8" y="422.6" width="1" height="74.2" fill="#cfbd3a"/>
<rect x="131.2" y="434.2" width="2.3" height="53.5" fill="#cfbd3a"/>
<rect x="134.7" y="477.2" width="1" height="120.8" fill="#cfbd3a"/>
<rect x="134.1" y="487.8" width="2.3" height="94.4" fill="#cfbd3a"/>
<rect x="137.7" y="514.2" width="1" height="85.9" fill="#3632c6"/>
<rect x="137.0" y="525.3" width="2.3" height="56.8" fill="#3632c6"/>
<rect x="140.6" y="508.6" width="1" height="37.0" fill="#cfbd3a"/>
<rect x="139.9" y="525.3" width="2.3" height="12.2" fill="#cfbd3a"/>
<rect x="143.5" y="461.4" width="1" height="86.7" fill="#3632c6"/>
<rect x="142.8" y="471.1" width="2.3" height="66.4" fill="#3632c6"/>
<rect x="146.4" y="444.0" width="1" height="43.2" fill="#3632c6"/>
<rect x="145.8" y="453.7" width="2.3" height="17.4" fill="#3632c6"/>
<rect x="149.3" y="443.7" width="1" height="30.8" fill="#cfbd3a"/>
<rect x="148.7" y="453.7" width="2.3" height="7.7" fill="#cfbd3a"/>
<rect x="152.3" y="454.8" width="1" height="26.1" fill="#cfbd3a"/>
<rect x="151.6" y="461.4" width="2.3" height="1.2" fill="#cfbd3a"/>
<rect x="155.2" y="432.3" width="1" height="42.4" fill="#3632c6"/>
<rect x="154.5" y="442.6" width="2.3" height="20.0" fill="#3632c6"/>
<rect x="158.1" y="430.3" width="1" height="42.6" fill="#cfbd3a"/>
<rect x="157.5" y="442.6" width="2.3" height="13.3" fill="#cfbd3a"/>
<rect x="161.0" y="429.5" width="1" height="39.7" fill="#3632c6"/>
<rect x="160.4" y="437.6" width="2.3" height="18.3" fill="#3632c6"/>
<rect x="164.0" y="412.9" width="1" height="32.3" fill="#3632c6"/>
<rect x="163.3" y="420.3" width="2.3" height="17.2" fill="#3632c6"/>
<rect x="166.9" y="384.3" width="1" height="39.7" fill="#3632c6"/>
<rect x="166.2" y="392.4" width="2.3" height="27.9" fill="#3632c6"/>
<rect x="169.8" y="385.4" width="1" height="46.6" fill="#cfbd3a"/>
<rect x="169.2" y="392.4" width="2.3" height="28.5" fill="#cfbd3a"/>
<rect x="172.7" y="407.3" width="1" height="21.9" fill="#3632c6"/>
<rect x="172.1" y="410.2" width="2.3" height="10.7" fill="#3632c6"/>
<rect x="175.7" y="399.6" width="1" height="29.4" fill="#cfbd3a"/>
<rect x="175.0" y="410.2" width="2.3" height="16.9" fill="#cfbd3a"/>
<rect x="178.6" y="395.0" width="1" height="39.9" fill="#3632c6"/>
<rect x="177.9" y="404.2" width="2.3" height="22.9" fill="#3632c6"/>
<rect x="181.5" y="388.4" width="1" height="22.9" fill="#3632c6"/>
<rect x="180.8" y="394.1" width="2.3" height="10.1" fill="#3632c6"/>
<rect x="184.4" y="379.7" width="1" height="23.4" fill="#3632c6"/>
<rect x="183.8" y="386.8" width="2.3" height="7.2" fill="#3632c6"/>
<rect x="187.3" y="383.3" width="1" height="11.8" fill="#cfbd3a"/>
<rect x="186.7" y="386.8" width="2.3" height="1.6" fill="#cfbd3a"/>
<rect x="190.3" y="374.2" width="1" height="18.8" fill="#3632c6"/>
<rect x="189.6" y="378.5" width="2.3" height="10.0" fill="#3632c6"/>
<rect x="193.2" y="357.5" width="1" height="26.5" fill="#3632c6"/>
<rect x="192.5" y="364.5" width="2.3" height="14.1" fill="#3632c6"/>
<rect x="196.1" y="355.9" width="1" height="14.4" fill="#3632c6"/>
<rect x="195.5" y="360.7" width="2.3" height="3.7" fill="#3632c6"/>
<rect x="199.0" y="350.5" width="1" height="14.4" fill="#3632c6"/>
<rect x="198.4" y="356.5" width="2.3" height="4.2" fill="#3632c6"/>
<rect x="202.0" y="333.0" width="1" height="28.1" fill="#3632c6"/>
<rect x="201.3" y="337.9" width="2.3" height="18.7" fill="#3632c6"/>
<rect x="204.9" y="333.7" width="1" height="22.6" fill="#cfbd3a"/>
<rect x="204.2" y="337.9" width="2.3" height="13.6" fill="#cfbd3a"/>
<rect x="207.8" y="347.4" width="1" height="23.2" fill="#cfbd3a"/>
<rect x="207.2" y="351.5" width="2.3" height="14.8" fill="#cfbd3a"/>
<rect x="210.7" y="362.2" width="1" height="13.7" fill="#cfbd3a"/>
<rect x="210.1" y="366.2" width="2.3" height="3.7" fill="#cfbd3a"/>
<rect x="213.7" y="369.4" width="1" height="20.3" fill="#cfbd3a"/>
<rect x="213.0" y="370.0" width="2.3" height="3.7" fill="#cfbd3a"/>
<rect x="216.6" y="359.1" width="1" height="17.8" fill="#3632c6"/>
<rect x="215.9" y="365.0" width="2.3" height="8.7" fill="#3632c6"/>
<rect x="219.5" y="338.3" width="1" height="33.0" fill="#3632c6"/>
<rect x="218.8" y="343.0" width="2.3" height="21.9" fill="#3632c6"/>
<rect x="222.4" y="336.1" width="1" height="9.7" fill="#3632c6"/>
<rect x="221.8" y="341.9" width="2.3" height="1.1" fill="#3632c6"/>
<rect x="225.3" y="339.2" width="1" height="9.9" fill="#cfbd3a"/>
<rect x="224.7" y="341.9" width="2.3" height="3.1" fill="#cfbd3a"/>
<rect x="228.3" y="351.1" width="1" height="34.1" fill="#cfbd3a"/>
<rect x="227.6" y="345.0" width="2.3" height="33.8" fill="#cfbd3a"/>
<rect x="231.2" y="334.5" width="1" height="51.2" fill="#3632c6"/>
<rect x="230.5" y="337.6" width="2.3" height="41.1" fill="#3632c6"/>
<rect x="234.1" y="315.4" width="1" height="21.9" fill="#3632c6"/>
<rect x="233.5" y="325.2" width="2.3" height="12.4" fill="#3632c6"/>
<rect x="237.0" y="321.6" width="1" height="15.3" fill="#cfbd3a"/>
<rect x="236.4" y="325.2" width="2.3" height="4.5" fill="#cfbd3a"/>
<rect x="240.0" y="309.5" width="1" height="23.9" fill="#3632c6"/>
<rect x="239.3" y="316.7" width="2.3" height="13.1" fill="#3632c6"/>
<rect x="242.9" y="298.4" width="1" height="27.5" fill="#3632c6"/>
<rect x="242.2" y="307.0" width="2.3" height="9.6" fill="#3632c6"/>
<rect x="245.8" y="303.1" width="1" height="17.8" fill="#cfbd3a"/>
<rect x="245.2" y="307.0" width="2.3" height="5.6" fill="#cfbd3a"/>
<rect x="248.7" y="300.3" width="1" height="18.1" fill="#3632c6"/>
<rect x="248.1" y="305.4" width="2.3" height="7.2" fill="#3632c6"/>
<rect x="251.7" y="296.8" width="1" height="17.3" fill="#cfbd3a"/>
<rect x="251.0" y="305.4" width="2.3" height="1.0" fill="#cfbd3a"/>
<rect x="254.6" y="295.0" width="1" height="15.9" fill="#3632c6"/>
<rect x="253.9" y="298.1" width="2.3" height="8.3" fill="#3632c6"/>
<rect x="257.5" y="283.9" width="1" height="17.5" fill="#3632c6"/>
<rect x="256.8" y="287.6" width="2.3" height="10.5" fill="#3632c6"/>
<rect x="260.4" y="285.0" width="1" height="14.2" fill="#cfbd3a"/>
<rect x="259.8" y="287.6" width="2.3" height="8.6" fill="#cfbd3a"/>
<rect x="263.3" y="280.5" width="1" height="17.9" fill="#3632c6"/>
<rect x="262.7" y="285.1" width="2.3" height="11.2" fill="#3632c6"/>
<rect x="266.3" y="280.6" width="1" height="27.2" fill="#cfbd3a"/>
<rect x="265.6" y="285.1" width="2.3" height="19.6" fill="#cfbd3a"/>
<rect x="269.2" y="275.8" width="1" height="32.7" fill="#3632c6"/>
<rect x="268.5" y="278.2" width="2.3" height="26.4" fill="#3632c6"/>
<rect x="272.1" y="265.9" width="1" height="17.1" fill="#3632c6"/>
<rect x="271.5" y="271.1" width="2.3" height="7.1" fill="#3632c6"/>
<rect x="275.0" y="268.5" width="1" height="13.6" fill="#cfbd3a"/>
<rect x="274.4" y="271.1" width="2.3" height="4.2" fill="#cfbd3a"/>
<rect x="278.0" y="268.8" width="1" height="28.4" fill="#cfbd3a"/>
<rect x="277.3" y="275.3" width="2.3" height="14.4" fill="#cfbd3a"/>
<rect x="280.9" y="274.2" width="1" height="29.1" fill="#3632c6"/>
<rect x="280.2" y="285.0" width="2.3" height="4.7" fill="#3632c6"/>
<rect x="283.8" y="267.2" width="1" height="24.4" fill="#3632c6"/>
<rect x="283.2" y="269.8" width="2.3" height="15.2" fill="#3632c6"/>
<rect x="286.7" y="266.1" width="1" height="11.3" fill="#cfbd3a"/>
<rect x="286.1" y="269.8" width="2.3" height="4.5" fill="#cfbd3a"/>
<rect x="289.6" y="260.8" width="1" height="20.4" fill="#3632c6"/>
<rect x="289.0" y="265.3" width="2.3" height="9.1" fill="#3632c6"/>
<rect x="292.6" y="252.9" width="1" height="15.7" fill="#3632c6"/>
<rect x="291.9" y="258.7" width="2.3" height="6.6" fill="#3632c6"/>
<rect x="295.5" y="240.4" width="1" height="23.9" fill="#3632c6"/>
<rect x="294.8" y="243.1" width="2.3" height="15.5" fill="#3632c6"/>
<rect x="298.4" y="230.9" width="1" height="17.1" fill="#3632c6"/>
<rect x="297.8" y="235.2" width="2.3" height="7.9" fill="#3632c6"/>
<rect x="301.3" y="232.8" width="1" height="5.4" fill="#cfbd3a"/>
<rect x="300.7" y="235.2" width="2.3" height="1.0" fill="#cfbd3a"/>
<rect x="304.3" y="231.8" width="1" height="7.3" fill="#3632c6"/>
<rect x="303.6" y="235.8" width="2.3" height="1.0" fill="#3632c6"/>
<rect x="307.2" y="226.5" width="1" height="14.2" fill="#3632c6"/>
<rect x="306.5" y="228.7" width="2.3" height="7.1" fill="#3632c6"/>
<rect x="310.1" y="227.9" width="1" height="25.4" fill="#cfbd3a"/>
<rect x="309.5" y="228.7" width="2.3" height="8.1" fill="#cfbd3a"/>
<rect x="313.0" y="234.7" width="1" height="8.7" fill="#cfbd3a"/>
<rect x="312.4" y="236.8" width="2.3" height="2.5" fill="#cfbd3a"/>
<rect x="316.0" y="230.6" width="1" height="12.8" fill="#3632c6"/>
<rect x="315.3" y="232.6" width="2.3" height="6.7" fill="#3632c6"/>
<rect x="318.9" y="226.2" width="1" height="9.1" fill="#3632c6"/>
<rect x="318.2" y="229.0" width="2.3" height="3.6" fill="#3632c6"/>
<rect x="321.8" y="224.0" width="1" height="8.4" fill="#3632c6"/>
<rect x="321.2" y="226.6" width="2.3" height="2.4" fill="#3632c6"/>
<rect x="324.7" y="224.5" width="1" height="15.3" fill="#cfbd3a"/>
<rect x="324.1" y="226.6" width="2.3" height="11.2" fill="#cfbd3a"/>
<rect x="327.6" y="218.9" width="1" height="21.5" fill="#3632c6"/>
<rect x="327.0" y="222.1" width="2.3" height="15.7" fill="#3632c6"/>
<rect x="330.6" y="210.2" width="1" height="14.4" fill="#3632c6"/>
<rect x="329.9" y="212.4" width="2.3" height="9.6" fill="#3632c6"/>
<rect x="333.5" y="208.1" width="1" height="6.8" fill="#3632c6"/>
<rect x="332.8" y="210.1" width="2.3" height="2.3" fill="#3632c6"/>
<rect x="336.4" y="207.4" width="1" height="11.1" fill="#cfbd3a"/>
<rect x="335.8" y="210.1" width="2.3" height="5.7" fill="#cfbd3a"/>
<rect x="339.3" y="200.2" width="1" height="18.6" fill="#3632c6"/>
<rect x="338.7" y="204.6" width="2.3" height="11.3" fill="#3632c6"/>
<rect x="342.3" y="201.1" width="1" height="8.0" fill="#cfbd3a"/>
<rect x="341.6" y="204.6" width="2.3" height="2.2" fill="#cfbd3a"/>
<rect x="345.2" y="198.3" width="1" height="10.4" fill="#3632c6"/>
<rect x="344.5" y="201.3" width="2.3" height="5.4" fill="#3632c6"/>
<rect x="348.1" y="194.4" width="1" height="8.9" fill="#3632c6"/>
<rect x="347.5" y="197.2" width="2.3" height="4.1" fill="#3632c6"/>
<rect x="351.0" y="193.3" width="1" height="10.8" fill="#cfbd3a"/>
<rect x="350.4" y="197.2" width="2.3" height="3.4" fill="#cfbd3a"/>
<rect x="354.0" y="189.6" width="1" height="14.0" fill="#3632c6"/>
<rect x="353.3" y="191.8" width="2.3" height="8.8" fill="#3632c6"/>
<rect x="356.9" y="184.7" width="1" height="9.0" fill="#3632c6"/>
<rect x="356.2" y="188.5" width="2.3" height="3.3" fill="#3632c6"/>
<rect x="359.8" y="184.6" width="1" height="16.7" fill="#cfbd3a"/>
<rect x="359.2" y="188.5" width="2.3" height="9.9" fill="#cfbd3a"/>
<rect x="362.7" y="195.5" width="1" height="10.1" fill="#cfbd3a"/>
<rect x="362.1" y="198.4" width="2.3" height="3.4" fill="#cfbd3a"/>
<rect x="365.6" y="196.4" width="1" height="8.1" fill="#3632c6"/>
<rect x="365.0" y="198.8" width="2.3" height="2.9" fill="#3632c6"/>
<rect x="368.6" y="197.6" width="1" height="24.8" fill="#cfbd3a"/>
<rect x="367.9" y="198.8" width="2.3" height="13.0" fill="#cfbd3a"/>
<rect x="371.5" y="204.6" width="1" height="11.1" fill="#3632c6"/>
<rect x="370.8" y="207.3" width="2.3" height="4.6" fill="#3632c6"/>
<rect x="374.4" y="192.9" width="1" height="18.0" fill="#3632c6"/>
<rect x="373.8" y="196.7" width="2.3" height="10.5" fill="#3632c6"/>
<rect x="377.3" y="184.1" width="1" height="15.7" fill="#3632c6"/>
<rect x="376.7" y="187.3" width="2.3" height="9.5" fill="#3632c6"/>
<rect x="380.3" y="177.5" width="1" height="12.1" fill="#3632c6"/>
<rect x="379.6" y="179.6" width="2.3" height="7.7" fill="#3632c6"/>
<rect x="383.2" y="165.8" width="1" height="18.3" fill="#3632c6"/>
<rect x="382.5" y="168.1" width="2.3" height="11.5" fill="#3632c6"/>
<rect x="386.1" y="165.4" width="1" height="6.9" fill="#cfbd3a"/>
<rect x="385.5" y="168.1" width="2.3" height="1.8" fill="#cfbd3a"/>
<rect x="389.0" y="165.8" width="1" height="8.4" fill="#3632c6"/>
<rect x="388.4" y="168.0" width="2.3" height="1.9" fill="#3632c6"/>
<rect x="392.0" y="163.0" width="1" height="22.3" fill="#cfbd3a"/>
<rect x="391.3" y="168.0" width="2.3" height="12.9" fill="#cfbd3a"/>
<rect x="394.9" y="173.6" width="1" height="20.1" fill="#cfbd3a"/>
<rect x="394.2" y="180.9" width="2.3" height="7.2" fill="#cfbd3a"/>
<rect x="397.8" y="162.9" width="1" height="29.2" fill="#3632c6"/>
<rect x="397.2" y="166.3" width="2.3" height="21.8" fill="#3632c6"/>
<rect x="400.7" y="163.9" width="1" height="25.1" fill="#cfbd3a"/>
<rect x="400.1" y="166.3" width="2.3" height="11.4" fill="#cfbd3a"/>
<rect x="403.6" y="162.8" width="1" height="26.2" fill="#3632c6"/>
<rect x="403.0" y="164.6" width="2.3" height="13.1" fill="#3632c6"/>
<rect x="406.6" y="153.5" width="1" height="15.5" fill="#3632c6"/>
<rect x="405.9" y="159.6" width="2.3" height="5.0" fill="#3632c6"/>
<rect x="409.5" y="153.3" width="1" height="19.1" fill="#cfbd3a"/>
<rect x="408.8" y="159.6" width="2.3" height="11.0" fill="#cfbd3a"/>
<rect x="412.4" y="167.2" width="1" height="8.8" fill="#cfbd3a"/>
<rect x="411.8" y="170.6" width="2.3" height="1.8" fill="#cfbd3a"/>
<rect x="415.3" y="169.8" width="1" height="41.2" fill="#cfbd3a"/>
<rect x="414.7" y="172.4" width="2.3" height="34.0" fill="#cfbd3a"/>
<rect x="418.3" y="199.1" width="1" height="30.9" fill="#3632c6"/>
<rect x="417.6" y="201.9" width="2.3" height="4.5" fill="#3632c6"/>
<rect x="421.2" y="189.5" width="1" height="17.5" fill="#3632c6"/>
<rect x="420.5" y="193.0" width="2.3" height="8.9" fill="#3632c6"/>
<rect x="424.1" y="190.6" width="1" height="16.6" fill="#cfbd3a"/>
<rect x="423.5" y="193.0" width="2.3" height="10.7" fill="#cfbd3a"/>
<rect x="427.0" y="201.0" width="1" height="16.1" fill="#cfbd3a"/>
<rect x="426.4" y="203.7" width="2.3" height="9.2" fill="#cfbd3a"/>
<rect x="430.0" y="208.1" width="1" height="37.0" fill="#3632c6"/>
<rect x="429.3" y="208.1" width="2.3" height="4.8" fill="#3632c6"/>
<rect x="432.9" y="204.6" width="1" height="14.2" fill="#cfbd3a"/>
<rect x="432.2" y="208.1" width="2.3" height="7.4" fill="#cfbd3a"/>
<rect x="435.8" y="219.2" width="1" height="19.8" fill="#cfbd3a"/>
<rect x="435.1" y="215.6" width="2.3" height="17.0" fill="#cfbd3a"/>
<rect x="438.7" y="190.6" width="1" height="48.7" fill="#3632c6"/>
<rect x="438.1" y="197.8" width="2.3" height="34.7" fill="#3632c6"/>
<rect x="441.6" y="181.5" width="1" height="23.3" fill="#3632c6"/>
<rect x="441.0" y="187.5" width="2.3" height="10.3" fill="#3632c6"/>
<rect x="444.6" y="182.9" width="1" height="8.6" fill="#3632c6"/>
<rect x="443.9" y="187.1" width="2.3" height="1.0" fill="#3632c6"/>
<rect x="447.5" y="180.1" width="1" height="17.5" fill="#cfbd3a"/>
<rect x="446.8" y="187.1" width="2.3" height="7.4" fill="#cfbd3a"/>
<rect x="450.4" y="188.7" width="1" height="24.0" fill="#cfbd3a"/>
<rect x="449.8" y="194.6" width="2.3" height="12.5" fill="#cfbd3a"/>
<rect x="453.3" y="204.4" width="1" height="25.7" fill="#cfbd3a"/>
<rect x="452.7" y="207.1" width="2.3" height="16.2" fill="#cfbd3a"/>
<rect x="456.3" y="215.5" width="1" height="33.5" fill="#cfbd3a"/>
<rect x="455.6" y="223.3" width="2.3" height="19.4" fill="#cfbd3a"/>
<rect x="459.2" y="236.1" width="1" height="14.9" fill="#cfbd3a"/>
<rect x="458.5" y="242.7" width="2.3" height="1.2" fill="#cfbd3a"/>
<rect x="462.1" y="249.9" width="1" height="32.5" fill="#cfbd3a"/>
<rect x="461.5" y="243.9" width="2.3" height="14.2" fill="#cfbd3a"/>
<rect x="465.0" y="248.5" width="1" height="41.3" fill="#cfbd3a"/>
<rect x="464.4" y="258.1" width="2.3" height="18.0" fill="#cfbd3a"/>
<rect x="468.0" y="231.6" width="1" height="52.0" fill="#3632c6"/>
<rect x="467.3" y="239.0" width="2.3" height="37.1" fill="#3632c6"/>
<rect x="470.9" y="232.7" width="1" height="21.6" fill="#cfbd3a"/>
<rect x="470.2" y="239.0" width="2.3" height="7.0" fill="#cfbd3a"/>
<rect x="473.8" y="238.1" width="1" height="46.1" fill="#cfbd3a"/>
<rect x="473.1" y="246.0" width="2.3" height="30.2" fill="#cfbd3a"/>
<rect x="476.7" y="285.6" width="1" height="31.3" fill="#cfbd3a"/>
<rect x="476.1" y="276.1" width="2.3" height="34.7" fill="#cfbd3a"/>
<rect x="479.6" y="269.8" width="1" height="47.9" fill="#3632c6"/>
<rect x="479.0" y="274.5" width="2.3" height="36.3" fill="#3632c6"/>
<rect x="482.6" y="270.2" width="1" height="28.3" fill="#cfbd3a"/>
<rect x="481.9" y="274.5" width="2.3" height="13.0" fill="#cfbd3a"/>
<rect x="485.5" y="267.6" width="1" height="29.4" fill="#3632c6"/>
<rect x="484.8" y="276.4" width="2.3" height="11.2" fill="#3632c6"/>
<rect x="488.4" y="267.4" width="1" height="24.0" fill="#cfbd3a"/>
<rect x="487.8" y="276.4" width="2.3" height="5.4" fill="#cfbd3a"/>
<rect x="491.3" y="259.5" width="1" height="25.7" fill="#3632c6"/>
<rect x="490.7" y="267.2" width="2.3" height="14.6" fill="#3632c6"/>
<rect x="494.3" y="233.2" width="1" height="43.4" fill="#3632c6"/>
<rect x="493.6" y="242.9" width="2.3" height="24.3" fill="#3632c6"/>
<rect x="497.2" y="233.6" width="1" height="16.8" fill="#3632c6"/>
<rect x="496.5" y="240.8" width="2.3" height="2.1" fill="#3632c6"/>
<rect x="500.1" y="214.2" width="1" height="30.1" fill="#3632c6"/>
<rect x="499.5" y="222.2" width="2.3" height="18.6" fill="#3632c6"/>
<rect x="503.0" y="214.9" width="1" height="18.7" fill="#cfbd3a"/>
<rect x="502.4" y="222.2" width="2.3" height="7.1" fill="#cfbd3a"/>
<rect x="506.0" y="226.2" width="1" height="31.0" fill="#cfbd3a"/>
<rect x="505.3" y="229.2" width="2.3" height="24.0" fill="#cfbd3a"/>
<rect x="508.9" y="246.3" width="1" height="30.2" fill="#cfbd3a"/>
<rect x="508.2" y="253.2" width="2.3" height="19.4" fill="#cfbd3a"/>
<rect x="511.8" y="244.4" width="1" height="37.3" fill="#3632c6"/>
<rect x="511.1" y="251.8" width="2.3" height="20.8" fill="#3632c6"/>
<rect x="514.7" y="245.2" width="1" height="41.0" fill="#cfbd3a"/>
<rect x="514.1" y="251.8" width="2.3" height="28.4" fill="#cfbd3a"/>
<rect x="517.6" y="273.3" width="1" height="43.3" fill="#cfbd3a"/>
<rect x="517.0" y="280.3" width="2.3" height="27.7" fill="#cfbd3a"/>
<rect x="520.6" y="299.1" width="1" height="33.9" fill="#cfbd3a"/>
<rect x="519.9" y="308.0" width="2.3" height="17.2" fill="#cfbd3a"/>
<rect x="523.5" y="308.2" width="1" height="20.7" fill="#3632c6"/>
<rect x="522.8" y="316.4" width="2.3" height="8.7" fill="#3632c6"/>
<rect x="526.4" y="309.2" width="1" height="31.4" fill="#cfbd3a"/>
<rect x="525.8" y="316.4" width="2.3" height="9.1" fill="#cfbd3a"/>
<rect x="529.3" y="289.2" width="1" height="42.3" fill="#3632c6"/>
<rect x="528.7" y="298.7" width="2.3" height="26.9" fill="#3632c6"/>
<rect x="532.3" y="268.1" width="1" height="33.9" fill="#3632c6"/>
<rect x="531.6" y="276.1" width="2.3" height="22.5" fill="#3632c6"/>
<rect x="535.2" y="272.3" width="1" height="29.1" fill="#cfbd3a"/>
<rect x="534.5" y="276.1" width="2.3" height="19.8" fill="#cfbd3a"/>
<rect x="538.1" y="261.8" width="1" height="39.6" fill="#3632c6"/>
<rect x="537.5" y="262.6" width="2.3" height="33.3" fill="#3632c6"/>
<rect x="541.0" y="254.1" width="1" height="18.0" fill="#cfbd3a"/>
<rect x="540.4" y="262.6" width="2.3" height="4.0" fill="#cfbd3a"/>
<rect x="544.0" y="251.2" width="1" height="21.7" fill="#3632c6"/>
<rect x="543.3" y="257.8" width="2.3" height="8.9" fill="#3632c6"/>
<rect x="546.9" y="245.3" width="1" height="16.0" fill="#3632c6"/>
<rect x="546.2" y="251.2" width="2.3" height="6.6" fill="#3632c6"/>
<rect x="549.8" y="242.0" width="1" height="33.6" fill="#cfbd3a"/>
<rect x="549.1" y="251.2" width="2.3" height="20.0" fill="#cfbd3a"/>
<rect x="552.7" y="247.0" width="1" height="40.2" fill="#cfbd3a"/>
<rect x="552.1" y="271.2" width="2.3" height="12.2" fill="#cfbd3a"/>
<rect x="555.6" y="280.6" width="1" height="9.4" fill="#cfbd3a"/>
<rect x="555.0" y="283.4" width="2.3" height="1.1" fill="#cfbd3a"/>
<rect x="558.6" y="278.1" width="1" height="14.6" fill="#cfbd3a"/>
<rect x="557.9" y="284.6" width="2.3" height="1.0" fill="#cfbd3a"/>
<rect x="561.5" y="272.7" width="1" height="16.1" fill="#3632c6"/>
<rect x="560.8" y="277.0" width="2.3" height="8.4" fill="#3632c6"/>
<rect x="564.4" y="258.9" width="1" height="23.6" fill="#3632c6"/>
<rect x="563.8" y="261.7" width="2.3" height="15.3" fill="#3632c6"/>
<rect x="567.3" y="258.9" width="1" height="10.8" fill="#cfbd3a"/>
<rect x="566.7" y="261.7" width="2.3" height="3.9" fill="#cfbd3a"/>
<rect x="570.3" y="248.7" width="1" height="21.0" fill="#3632c6"/>
<rect x="569.6" y="251.4" width="2.3" height="14.2" fill="#3632c6"/>
<rect x="573.2" y="236.1" width="1" height="17.9" fill="#3632c6"/>
<rect x="572.5" y="242.0" width="2.3" height="9.3" fill="#3632c6"/>
<rect x="576.1" y="237.3" width="1" height="15.0" fill="#cfbd3a"/>
<rect x="575.5" y="242.0" width="2.3" height="6.5" fill="#cfbd3a"/>
<rect x="579.0" y="244.1" width="1" height="10.0" fill="#cfbd3a"/>
<rect x="578.4" y="248.5" width="2.3" height="1.6" fill="#cfbd3a"/>
<rect x="581.9" y="247.3" width="1" height="23.9" fill="#cfbd3a"/>
<rect x="581.3" y="250.2" width="2.3" height="15.8" fill="#cfbd3a"/>
<rect x="584.9" y="250.8" width="1" height="17.4" fill="#3632c6"/>
<rect x="584.2" y="254.9" width="2.3" height="11.0" fill="#3632c6"/>
<rect x="587.8" y="250.2" width="1" height="32.7" fill="#cfbd3a"/>
<rect x="587.1" y="254.9" width="2.3" height="27.1" fill="#cfbd3a"/>
<rect x="590.7" y="270.5" width="1" height="19.5" fill="#3632c6"/>
<rect x="590.1" y="273.8" width="2.3" height="8.2" fill="#3632c6"/>
<rect x="593.6" y="262.8" width="1" height="15.0" fill="#3632c6"/>
<rect x="593.0" y="265.8" width="2.3" height="8.0" fill="#3632c6"/>
<rect x="596.6" y="241.9" width="1" height="30.5" fill="#3632c6"/>
<rect x="595.9" y="245.9" width="2.3" height="19.9" fill="#3632c6"/>
<rect x="599.5" y="243.5" width="1" height="8.7" fill="#cfbd3a"/>
<rect x="598.8" y="245.9" width="2.3" height="1.0" fill="#cfbd3a"/>
<rect x="602.4" y="235.8" width="1" height="13.5" fill="#3632c6"/>
<rect x="601.8" y="241.9" width="2.3" height="4.6" fill="#3632c6"/>
<rect x="605.3" y="235.5" width="1" height="12.4" fill="#cfbd3a"/>
<rect x="604.7" y="241.9" width="2.3" height="1.0" fill="#cfbd3a"/>
<rect x="608.3" y="231.7" width="1" height="14.1" fill="#3632c6"/>
<rect x="607.6" y="237.4" width="2.3" height="5.0" fill="#3632c6"/>
<rect x="611.2" y="234.0" width="1" height="11.6" fill="#cfbd3a"/>
<rect x="610.5" y="237.4" width="2.3" height="4.7" fill="#cfbd3a"/>
<rect x="614.1" y="237.8" width="1" height="9.3" fill="#cfbd3a"/>
<rect x="613.5" y="242.1" width="2.3" height="1.7" fill="#cfbd3a"/>
<rect x="617.0" y="231.5" width="1" height="15.1" fill="#3632c6"/>
<rect x="616.4" y="234.3" width="2.3" height="9.5" fill="#3632c6"/>
<rect x="619.9" y="230.1" width="1" height="6.1" fill="#3632c6"/>
<rect x="619.3" y="232.4" width="2.3" height="1.9" fill="#3632c6"/>
<rect x="622.9" y="220.1" width="1" height="15.5" fill="#3632c6"/>
<rect x="622.2" y="221.9" width="2.3" height="10.5" fill="#3632c6"/>
<rect x="625.8" y="217.4" width="1" height="7.9" fill="#3632c6"/>
<rect x="625.1" y="219.6" width="2.3" height="2.2" fill="#3632c6"/>
<rect x="628.7" y="202.5" width="1" height="19.5" fill="#3632c6"/>
<rect x="628.1" y="204.8" width="2.3" height="14.8" fill="#3632c6"/>
<rect x="631.6" y="201.6" width="1" height="13.8" fill="#cfbd3a"/>
<rect x="631.0" y="204.8" width="2.3" height="8.1" fill="#cfbd3a"/>
<rect x="634.6" y="196.4" width="1" height="21.6" fill="#3632c6"/>
<rect x="633.9" y="199.5" width="2.3" height="13.5" fill="#3632c6"/>
<rect x="637.5" y="194.7" width="1" height="16.2" fill="#cfbd3a"/>
<rect x="636.8" y="199.5" width="2.3" height="6.8" fill="#cfbd3a"/>
<rect x="640.4" y="187.8" width="1" height="24.1" fill="#3632c6"/>
<rect x="639.8" y="192.3" width="2.3" height="13.9" fill="#3632c6"/>
<rect x="643.3" y="183.0" width="1" height="13.4" fill="#3632c6"/>
<rect x="642.7" y="188.4" width="2.3" height="4.0" fill="#3632c6"/>
<rect x="646.3" y="177.7" width="1" height="12.9" fill="#3632c6"/>
<rect x="645.6" y="182.5" width="2.3" height="5.9" fill="#3632c6"/>
<rect x="649.2" y="177.6" width="1" height="22.2" fill="#cfbd3a"/>
<rect x="648.5" y="182.5" width="2.3" height="13.4" fill="#cfbd3a"/>
<rect x="652.1" y="190.9" width="1" height="11.4" fill="#cfbd3a"/>
<rect x="651.5" y="195.9" width="2.3" height="1.8" fill="#cfbd3a"/>
<rect x="655.0" y="194.6" width="1" height="17.9" fill="#cfbd3a"/>
<rect x="654.4" y="197.7" width="2.3" height="12.4" fill="#cfbd3a"/>
<rect x="657.9" y="200.0" width="1" height="12.6" fill="#3632c6"/>
<rect x="657.3" y="205.4" width="2.3" height="4.8" fill="#3632c6"/>
<rect x="660.9" y="187.2" width="1" height="21.4" fill="#3632c6"/>
<rect x="660.2" y="191.0" width="2.3" height="14.4" fill="#3632c6"/>
<rect x="663.8" y="187.8" width="1" height="15.5" fill="#cfbd3a"/>
<rect x="663.1" y="191.0" width="2.3" height="7.6" fill="#cfbd3a"/>
<rect x="666.7" y="193.7" width="1" height="8.5" fill="#cfbd3a"/>
<rect x="666.1" y="198.6" width="2.3" height="1.0" fill="#cfbd3a"/>
<rect x="669.6" y="195.1" width="1" height="24.9" fill="#cfbd3a"/>
<rect x="669.0" y="199.5" width="2.3" height="17.3" fill="#cfbd3a"/>
<rect x="672.6" y="212.7" width="1" height="11.8" fill="#cfbd3a"/>
<rect x="671.9" y="216.8" width="2.3" height="4.3" fill="#cfbd3a"/>
<rect x="675.5" y="215.6" width="1" height="15.4" fill="#3632c6"/>
<rect x="674.8" y="218.3" width="2.3" height="2.8" fill="#3632c6"/>
<rect x="678.4" y="213.1" width="1" height="10.0" fill="#3632c6"/>
<rect x="677.8" y="215.7" width="2.3" height="2.6" fill="#3632c6"/>
<rect x="681.3" y="212.2" width="1" height="20.3" fill="#cfbd3a"/>
<rect x="680.7" y="215.7" width="2.3" height="14.1" fill="#cfbd3a"/>
<rect x="684.3" y="225.1" width="1" height="21.6" fill="#cfbd3a"/>
<rect x="683.6" y="229.8" width="2.3" height="14.9" fill="#cfbd3a"/>
<rect x="687.2" y="207.3" width="1" height="40.4" fill="#3632c6"/>
<rect x="686.5" y="211.6" width="2.3" height="33.1" fill="#3632c6"/>
<rect x="690.1" y="200.9" width="1" height="13.4" fill="#3632c6"/>
<rect x="689.5" y="204.1" width="2.3" height="7.5" fill="#3632c6"/>
<rect x="693.0" y="187.0" width="1" height="20.0" fill="#3632c6"/>
<rect x="692.4" y="191.2" width="2.3" height="12.9" fill="#3632c6"/>
<rect x="695.9" y="182.0" width="1" height="12.7" fill="#3632c6"/>
<rect x="695.3" y="185.4" width="2.3" height="5.8" fill="#3632c6"/>
<rect x="698.9" y="176.0" width="1" height="15.9" fill="#3632c6"/>
<rect x="698.2" y="180.9" width="2.3" height="4.5" fill="#3632c6"/>
<rect x="701.8" y="174.0" width="1" height="11.1" fill="#3632c6"/>
<rect x="701.1" y="179.7" width="2.3" height="1.2" fill="#3632c6"/>
<rect x="704.7" y="160.8" width="1" height="24.0" fill="#3632c6"/>
<rect x="704.1" y="165.4" width="2.3" height="14.3" fill="#3632c6"/>
<rect x="707.6" y="157.0" width="1" height="12.3" fill="#3632c6"/>
<rect x="707.0" y="161.0" width="2.3" height="4.3" fill="#3632c6"/>
<rect x="710.6" y="156.7" width="1" height="7.6" fill="#3632c6"/>
<rect x="709.9" y="159.2" width="2.3" height="1.9" fill="#3632c6"/>
<rect x="713.5" y="161.1" width="1" height="8.9" fill="#cfbd3a"/>
<rect x="712.8" y="159.2" width="2.3" height="8.9" fill="#cfbd3a"/>
<rect x="716.4" y="154.0" width="1" height="17.9" fill="#3632c6"/>
<rect x="715.8" y="157.5" width="2.3" height="10.6" fill="#3632c6"/>
<rect x="719.3" y="146.5" width="1" height="13.4" fill="#3632c6"/>
<rect x="718.7" y="150.7" width="2.3" height="6.8" fill="#3632c6"/>
<rect x="722.3" y="142.0" width="1" height="11.3" fill="#3632c6"/>
<rect x="721.6" y="144.6" width="2.3" height="6.1" fill="#3632c6"/>
<rect x="725.2" y="133.5" width="1" height="14.2" fill="#3632c6"/>
<rect x="724.5" y="136.6" width="2.3" height="8.0" fill="#3632c6"/>
<rect x="728.1" y="123.6" width="1" height="17.7" fill="#3632c6"/>
<rect x="727.4" y="128.7" width="2.3" height="7.9" fill="#3632c6"/>
<rect x="731.0" y="126.2" width="1" height="14.7" fill="#cfbd3a"/>
<rect x="730.4" y="129.0" width="2.3" height="5.6" fill="#cfbd3a"/>
<path d="M0.8,420.9 L3.7,423.5 L6.6,426.3 L9.5,429.9 L12.5,432.9 L15.4,433.1 L18.3,434.0 L21.2,432.3 L24.2,431.8 L27.1,428.4 L30.0,424.4 L32.9,422.4 L35.8,420.5 L38.8,420.2 L41.7,420.8 L44.6,421.1 L47.5,420.9 L50.5,420.7 L53.4,419.5 L56.3,417.8 L59.2,416.7 L62.2,416.1 L65.1,415.8 L68.0,416.0 L70.9,419.8 L73.8,418.8 L76.8,416.1 L79.7,412.2 L82.6,407.6 L85.5,404.3 L88.5,400.5 L91.4,396.5 L94.3,392.5 L97.2,386.7 L100.2,381.3 L103.1,377.6 L106.0,374.8 L108.9,368.9 L111.8,364.7 L114.8,363.0 L117.7,358.9 L120.6,354.3 L123.5,352.7 L126.5,352.3 L129.4,352.0 L132.3,342.9 L135.2,320.2 L138.2,314.5 L141.1,309.8 L144.0,310.5 L146.9,312.1 L149.8,313.9 L152.8,316.3 L155.7,319.7 L158.6,324.1 L161.5,328.3 L164.5,332.5 L167.4,336.0 L170.3,341.6 L173.2,344.5 L176.2,352.3 L179.1,360.5 L182.0,366.1 L184.9,359.8 L187.8,354.5 L190.8,347.4 L193.7,348.8 L196.6,345.5 L199.5,346.6 L202.5,337.5 L205.4,332.0 L208.3,330.7 L211.2,331.4 L214.2,331.5 L217.1,333.5 L220.0,331.1 L222.9,328.0 L225.8,324.6 L228.8,326.7 L231.7,324.2 L234.6,323.1 L237.5,321.2 L240.5,316.3 L243.4,309.7 L246.3,306.1 L249.2,301.1 L252.2,296.4 L255.1,290.8 L258.0,283.7 L260.9,279.3 L263.8,273.3 L266.8,271.9 L269.7,267.4 L272.6,263.2 L275.5,260.5 L278.5,259.1 L281.4,257.5 L284.3,254.6 L287.2,259.9 L290.1,258.1 L293.1,254.6 L296.0,249.0 L298.9,241.4 L301.8,234.9 L304.8,230.2 L307.7,224.5 L310.6,221.8 L313.5,219.6 L316.5,216.2 L319.4,213.6 L322.3,210.5 L325.2,212.0 L328.1,209.1 L331.1,204.6 L334.0,200.7 L336.9,200.7 L339.8,199.3 L342.8,197.5 L345.7,196.5 L348.6,194.6 L351.5,193.7 L354.5,189.8 L357.4,185.5 L360.3,183.8 L363.2,183.0 L366.1,181.6 L369.1,182.3 L372.0,183.5 L374.9,183.3 L377.8,181.6 L380.8,178.6 L383.7,175.4 L386.6,171.7 L389.5,167.5 L392.5,166.3 L395.4,166.7 L398.3,163.2 L401.2,162.3 L404.1,159.2 L407.1,155.4 L410.0,154.2 L412.9,153.1 L415.8,152.4 L418.8,152.3 L421.7,152.5 L424.6,152.3 L427.5,152.2 L430.5,152.1 L433.4,150.7 L436.3,147.7 L439.2,148.4 L442.1,150.3 L445.1,152.0 L448.0,154.5 L450.9,155.4 L453.8,154.9 L456.8,155.9 L459.7,156.1 L462.6,158.1 L465.5,160.6 L468.5,166.1 L471.4,171.9 L474.3,170.2 L477.2,165.7 L480.1,168.6 L483.1,169.9 L486.0,171.5 L488.9,174.1 L491.8,176.7 L494.8,177.3 L497.7,182.5 L500.6,188.8 L503.5,196.9 L506.5,206.1 L509.4,213.7 L512.3,217.7 L515.2,219.3 L518.1,219.1 L521.1,216.3 L524.0,214.7 L526.9,216.1 L529.8,219.1 L532.8,219.1 L535.7,219.6 L538.6,218.8 L541.5,218.0 L544.5,216.8 L547.4,214.8 L550.3,215.0 L553.2,218.1 L556.1,222.0 L559.1,230.7 L562.0,238.5 L564.9,239.8 L567.8,239.1 L570.8,239.0 L573.7,233.9 L576.6,231.0 L579.5,231.0 L582.4,232.7 L585.4,236.8 L588.3,238.3 L591.2,238.3 L594.1,240.0 L597.1,237.9 L600.0,235.9 L602.9,233.7 L605.8,232.4 L608.8,229.3 L611.7,228.2 L614.6,228.0 L617.5,227.1 L620.4,225.6 L623.4,221.2 L626.3,217.2 L629.2,209.9 L632.1,206.0 L635.1,199.3 L638.0,194.9 L640.9,189.0 L643.8,182.7 L646.8,178.7 L649.7,177.8 L652.6,177.5 L655.5,177.3 L658.4,177.2 L661.4,175.3 L664.3,175.1 L667.2,175.0 L670.1,176.7 L673.1,179.1 L676.0,180.6 L678.9,182.2 L681.8,181.3 L684.8,178.0 L687.7,178.3 L690.6,178.0 L693.5,177.0 L696.4,174.7 L699.4,172.8 L702.3,171.4 L705.2,167.6 L708.1,161.6 L711.1,155.8 L714.0,152.2 L716.9,147.1 L719.8,141.7 L722.8,135.4 L725.7,128.2 L728.6,120.7 L731.5,116.0" fill="none" stroke="#6260e2" stroke-width="1.05"/>
<path d="M0.8,546.0 L3.7,531.9 L6.6,519.9 L9.5,509.2 L12.5,502.3 L15.4,497.6 L18.3,491.9 L21.2,488.4 L24.2,484.0 L27.1,483.1 L30.0,482.8 L32.9,481.4 L35.8,477.6 L38.8,475.5 L41.7,472.4 L44.6,470.9 L47.5,472.1 L50.5,471.9 L53.4,471.7 L56.3,472.2 L59.2,472.4 L62.2,471.4 L65.1,469.8 L68.0,466.6 L70.9,457.7 L73.8,455.7 L76.8,454.9 L79.7,456.3 L82.6,457.6 L85.5,458.7 L88.5,460.4 L91.4,461.3 L94.3,462.8 L97.2,463.5 L100.2,463.1 L103.1,460.2 L106.0,454.9 L108.9,453.6 L111.8,452.0 L114.8,449.6 L117.7,447.7 L120.6,444.6 L123.5,438.9 L126.5,439.7 L129.4,440.3 L132.3,457.4 L135.2,502.8 L138.2,523.2 L141.1,544.7 L144.0,551.3 L146.9,555.3 L149.8,560.0 L152.8,564.6 L155.7,566.4 L158.6,569.1 L161.5,569.6 L164.5,568.7 L167.4,566.8 L170.3,564.8 L173.2,563.7 L176.2,560.2 L179.1,554.6 L182.0,550.6 L184.9,552.8 L187.8,554.3 L190.8,551.0 L193.7,524.6 L196.6,510.3 L199.5,488.9 L202.5,485.2 L205.4,480.5 L208.3,471.6 L211.2,460.6 L214.2,453.0 L217.1,440.9 L220.0,433.4 L222.9,428.6 L225.8,427.4 L228.8,420.5 L231.7,415.6 L234.6,406.1 L237.5,400.3 L240.5,397.6 L243.4,396.5 L246.3,392.5 L249.2,390.4 L252.2,389.4 L255.1,389.2 L258.0,389.9 L260.9,390.5 L263.8,390.3 L266.8,385.2 L269.7,380.5 L272.6,374.3 L275.5,367.8 L278.5,363.7 L281.4,359.4 L284.3,354.7 L287.2,337.7 L290.1,332.0 L293.1,328.9 L296.0,326.0 L298.9,325.8 L301.8,325.5 L304.8,322.6 L307.7,320.9 L310.6,316.6 L313.5,312.8 L316.5,310.7 L319.4,306.5 L322.3,303.8 L325.2,295.0 L328.1,292.3 L331.1,291.2 L334.0,288.6 L336.9,280.8 L339.8,273.9 L342.8,269.3 L345.7,262.7 L348.6,257.7 L351.5,252.6 L354.5,251.4 L357.4,251.2 L360.3,249.2 L363.2,246.5 L366.1,244.9 L369.1,241.5 L372.0,236.9 L374.9,233.5 L377.8,231.0 L380.8,229.3 L383.7,225.5 L386.6,224.1 L389.5,224.0 L392.5,222.2 L395.4,218.9 L398.3,218.7 L401.2,216.7 L404.1,216.2 L407.1,216.4 L410.0,214.6 L412.9,213.7 L415.8,216.3 L418.8,216.8 L421.7,215.6 L424.6,216.4 L427.5,216.7 L430.5,216.8 L433.4,220.3 L436.3,228.4 L439.2,229.5 L442.1,229.5 L445.1,229.4 L448.0,229.5 L450.9,231.2 L453.8,235.4 L456.8,242.4 L459.7,249.2 L462.6,256.9 L465.5,266.5 L468.5,267.6 L471.4,268.8 L474.3,278.3 L477.2,295.2 L480.1,300.7 L483.1,308.4 L486.0,313.4 L488.9,318.5 L491.8,321.0 L494.8,321.4 L497.7,319.9 L500.6,316.2 L503.5,311.4 L506.5,307.1 L509.4,305.4 L512.3,303.9 L515.2,306.1 L518.1,313.2 L521.1,323.5 L524.0,329.8 L526.9,337.4 L529.8,339.8 L532.8,339.7 L535.7,337.5 L538.6,337.2 L541.5,335.8 L544.5,335.2 L547.4,334.2 L550.3,334.4 L553.2,335.1 L556.1,335.4 L559.1,332.2 L562.0,328.4 L564.9,327.8 L567.8,327.9 L570.8,327.9 L573.7,329.6 L576.6,326.6 L579.5,318.6 L582.4,311.3 L585.4,299.6 L588.3,296.2 L591.2,295.9 L594.1,291.0 L597.1,291.5 L600.0,291.6 L602.9,292.3 L605.8,292.8 L608.8,292.6 L611.7,289.5 L614.6,285.5 L617.5,281.1 L620.4,278.1 L623.4,278.7 L626.3,278.3 L629.2,281.4 L632.1,282.6 L635.1,284.9 L638.0,285.1 L640.9,284.0 L643.8,284.0 L646.8,278.0 L649.7,270.6 L652.6,263.7 L655.5,260.1 L658.4,256.0 L661.4,252.7 L664.3,248.4 L667.2,244.5 L670.1,239.9 L673.1,235.0 L676.0,231.8 L678.9,228.4 L681.8,230.1 L684.8,236.2 L687.7,236.7 L690.6,236.1 L693.5,236.3 L696.4,236.6 L699.4,237.4 L702.3,238.1 L705.2,240.5 L708.1,243.4 L711.1,245.7 L714.0,245.3 L716.9,246.0 L719.8,247.9 L722.8,249.4 L725.7,250.9 L728.6,250.1 L731.5,246.3" fill="none" stroke="#6260e2" stroke-width="1.05"/>
<path d="M0.8,480.1 L3.7,475.2 L6.6,471.2 L9.5,468.2 L12.5,466.6 L15.4,464.5 L18.3,462.2 L21.2,459.7 L24.2,457.3 L27.1,455.1 L30.0,452.9 L32.9,451.1 L35.8,448.3 L38.8,447.2 L41.7,446.0 L44.6,445.5 L47.5,445.9 L50.5,445.8 L53.4,445.0 L56.3,444.3 L59.2,443.9 L62.2,443.1 L65.1,442.2 L68.0,440.7 L70.9,438.4 L73.8,437.0 L76.8,435.2 L79.7,433.8 L82.6,432.1 L85.5,430.9 L88.5,429.6 L91.4,428.0 L94.3,426.6 L97.2,423.8 L100.2,420.8 L103.1,417.5 L106.0,413.5 L108.9,409.7 L111.8,406.7 L114.8,404.7 L117.7,401.6 L120.6,397.7 L123.5,394.2 L126.5,394.4 L129.4,394.5 L132.3,397.3 L135.2,404.4 L138.2,409.5 L141.1,415.5 L144.0,418.5 L146.9,421.1 L149.8,424.0 L152.8,427.3 L155.7,430.1 L158.6,433.8 L161.5,436.5 L164.5,438.7 L167.4,440.0 L170.3,442.5 L173.2,443.8 L176.2,447.0 L179.1,449.5 L182.0,451.0 L184.9,448.3 L187.8,445.9 L190.8,440.3 L193.7,430.1 L196.6,422.1 L199.5,413.4 L202.5,406.7 L205.4,401.5 L208.3,396.9 L211.2,392.4 L214.2,389.1 L217.1,384.7 L220.0,380.0 L222.9,376.1 L225.8,373.7 L228.8,371.7 L231.7,368.1 L234.6,363.1 L237.5,359.4 L240.5,355.5 L243.4,351.5 L246.3,347.7 L249.2,344.0 L252.2,341.1 L255.1,337.9 L258.0,334.4 L260.9,332.2 L263.8,328.8 L266.8,325.8 L269.7,321.2 L272.6,316.1 L275.5,311.7 L278.5,309.0 L281.4,306.2 L284.3,302.5 L287.2,297.5 L290.1,293.9 L293.1,290.5 L296.0,286.2 L298.9,282.1 L301.8,278.5 L304.8,274.6 L307.7,270.7 L310.6,267.2 L313.5,264.3 L316.5,261.6 L319.4,258.2 L322.3,255.3 L325.2,252.0 L328.1,249.2 L331.1,246.3 L334.0,243.0 L336.9,239.4 L339.8,235.4 L342.8,232.3 L345.7,228.7 L348.6,225.3 L351.5,222.4 L354.5,219.8 L357.4,217.5 L360.3,215.6 L363.2,213.9 L366.1,212.4 L369.1,211.2 L372.0,209.6 L374.9,207.8 L377.8,205.8 L380.8,203.4 L383.7,199.9 L386.6,197.3 L389.5,195.0 L392.5,193.6 L395.4,192.2 L398.3,190.3 L401.2,188.8 L404.1,187.0 L407.1,185.1 L410.0,183.6 L412.9,182.6 L415.8,183.5 L418.8,183.7 L421.7,183.2 L424.6,183.5 L427.5,183.5 L430.5,183.6 L433.4,184.5 L436.3,186.6 L439.2,187.5 L442.1,188.5 L445.1,189.4 L448.0,190.8 L450.9,192.1 L453.8,193.8 L456.8,197.5 L459.7,200.8 L462.6,205.4 L465.5,211.1 L468.5,214.6 L471.4,218.3 L474.3,221.7 L477.2,226.9 L480.1,230.9 L483.1,235.0 L486.0,238.2 L488.9,241.8 L491.8,244.4 L494.8,244.9 L497.7,247.2 L500.6,249.0 L503.5,251.3 L506.5,254.4 L509.4,257.8 L512.3,259.2 L515.2,261.1 L518.1,264.2 L521.1,267.5 L524.0,269.4 L526.9,273.6 L529.8,276.3 L532.8,276.3 L535.7,275.6 L538.6,275.0 L541.5,273.9 L544.5,273.0 L547.4,271.4 L550.3,271.6 L553.2,273.7 L556.1,275.9 L559.1,279.2 L562.0,281.7 L564.9,282.2 L567.8,281.8 L570.8,281.8 L573.7,279.8 L576.6,276.8 L579.5,273.2 L582.4,270.7 L585.4,267.3 L588.3,266.5 L591.2,266.4 L594.1,264.9 L597.1,264.1 L600.0,263.1 L602.9,262.2 L605.8,261.8 L608.8,260.1 L611.7,258.0 L614.6,256.0 L617.5,253.5 L620.4,251.3 L623.4,249.2 L626.3,246.9 L629.2,244.5 L632.1,243.0 L635.1,240.5 L638.0,238.3 L640.9,234.5 L643.8,231.1 L646.8,226.2 L649.7,222.4 L652.6,219.0 L655.5,217.3 L658.4,215.2 L661.4,212.7 L664.3,210.6 L667.2,208.7 L670.1,207.5 L673.1,206.4 L676.0,205.6 L678.9,204.8 L681.8,205.2 L684.8,206.4 L687.7,206.7 L690.6,206.3 L693.5,205.9 L696.4,204.8 L699.4,204.2 L702.3,203.8 L705.2,202.9 L708.1,201.1 L711.1,199.1 L714.0,196.9 L716.9,194.5 L719.8,192.4 L722.8,189.6 L725.7,186.3 L728.6,181.8 L731.5,177.5" fill="none" stroke="#bcab4a" stroke-width="1.1"/>
<path d="M0.8,455.5 L3.7,452.4 L6.6,451.6 L9.5,451.0 L12.5,452.8 L15.4,453.3 L18.3,453.7 L21.2,452.7 L24.2,452.7 L27.1,451.7 L30.0,448.7 L32.9,446.1 L35.8,441.7 L38.8,437.7 L41.7,436.7 L44.6,436.7 L47.5,439.0 L50.5,439.3 L53.4,439.6 L56.3,439.7 L59.2,439.4 L62.2,440.8 L65.1,440.3 L68.0,439.2 L70.9,437.1 L73.8,433.2 L76.8,430.2 L79.7,427.7 L82.6,425.3 L85.5,422.8 L88.5,419.0 L91.4,414.9 L94.3,410.7 L97.2,405.8 L100.2,401.3 L103.1,397.9 L106.0,394.4 L108.9,390.2 L111.8,386.5 L114.8,384.8 L117.7,381.1 L120.6,377.0 L123.5,374.7 L126.5,380.3 L129.4,385.5 L132.3,396.7 L135.2,418.0 L138.2,434.2 L141.1,450.4 L144.0,462.5 L146.9,474.2 L149.8,486.0 L152.8,488.9 L155.7,490.0 L158.6,486.3 L161.5,471.0 L164.5,459.5 L167.4,443.7 L170.3,438.2 L173.2,433.3 L176.2,429.6 L179.1,423.2 L182.0,417.8 L184.9,410.2 L187.8,404.8 L190.8,400.1 L193.7,396.9 L196.6,390.2 L199.5,384.2 L202.5,374.3 L205.4,368.5 L208.3,365.5 L211.2,363.6 L214.2,362.1 L217.1,360.6 L220.0,358.2 L222.9,356.1 L225.8,354.8 L228.8,359.3 L231.7,357.7 L234.6,353.1 L237.5,348.6 L240.5,342.3 L243.4,335.8 L246.3,332.4 L249.2,328.3 L252.2,324.0 L255.1,315.3 L258.0,309.7 L260.9,306.5 L263.8,301.6 L266.8,300.3 L269.7,297.1 L272.6,292.4 L275.5,289.1 L278.5,287.2 L281.4,285.8 L284.3,283.8 L287.2,281.4 L290.1,279.1 L293.1,274.1 L296.0,270.1 L298.9,266.0 L301.8,261.6 L304.8,255.6 L307.7,249.4 L310.6,245.8 L313.5,242.0 L316.5,238.4 L319.4,235.1 L322.3,233.3 L325.2,233.6 L328.1,232.1 L331.1,229.4 L334.0,227.3 L336.9,225.0 L339.8,221.1 L342.8,218.3 L345.7,215.2 L348.6,211.9 L351.5,207.8 L354.5,204.5 L357.4,201.8 L360.3,200.5 L363.2,199.0 L366.1,198.3 L369.1,198.9 L372.0,199.5 L374.9,199.5 L377.8,198.0 L380.8,196.6 L383.7,194.3 L386.6,191.0 L389.5,187.3 L392.5,185.3 L395.4,182.7 L398.3,178.2 L401.2,176.1 L404.1,173.6 L407.1,171.4 L410.0,171.7 L412.9,172.0 L415.8,176.1 L418.8,178.4 L421.7,178.9 L424.6,183.1 L427.5,186.9 L430.5,191.8 L433.4,198.1 L436.3,205.0 L439.2,207.9 L442.1,205.8 L445.1,204.1 L448.0,204.3 L450.9,204.6 L453.8,205.8 L456.8,209.5 L459.7,212.5 L462.6,215.2 L465.5,223.7 L468.5,229.5 L471.4,236.3 L474.3,245.4 L477.2,256.8 L480.1,262.6 L483.1,267.6 L486.0,271.2 L488.9,273.9 L491.8,272.9 L494.8,273.4 L497.7,272.8 L500.6,266.5 L503.5,257.6 L506.5,255.3 L509.4,253.7 L512.3,251.0 L515.2,250.8 L518.1,255.1 L521.1,263.9 L524.0,272.1 L526.9,283.7 L529.8,291.8 L532.8,294.4 L535.7,297.1 L538.6,298.3 L541.5,296.8 L544.5,291.1 L547.4,282.9 L550.3,278.0 L553.2,273.5 L556.1,272.0 L559.1,273.0 L562.0,271.0 L564.9,270.8 L567.8,270.7 L570.8,270.0 L573.7,268.9 L576.6,266.4 L579.5,262.7 L582.4,260.7 L585.4,257.4 L588.3,257.9 L591.2,259.2 L594.1,259.3 L597.1,258.6 L600.0,259.1 L602.9,258.4 L605.8,257.5 L608.8,254.3 L611.7,252.9 L614.6,248.7 L617.5,244.4 L620.4,240.7 L623.4,238.0 L626.3,235.0 L629.2,230.8 L632.1,227.6 L635.1,223.3 L638.0,219.3 L640.9,213.6 L643.8,208.5 L646.8,203.0 L649.7,200.1 L652.6,197.8 L655.5,198.3 L658.4,197.5 L661.4,196.6 L664.3,195.7 L667.2,196.5 L670.1,199.6 L673.1,203.9 L676.0,206.4 L678.9,208.4 L681.8,210.6 L684.8,214.8 L687.7,217.2 L690.6,217.8 L693.5,216.9 L696.4,213.3 L699.4,208.8 L702.3,204.4 L705.2,198.7 L708.1,191.1 L711.1,181.8 L714.0,177.1 L716.9,171.9 L719.8,167.4 L722.8,162.9 L725.7,158.0 L728.6,152.3 L731.5,148.8" fill="none" stroke="#4d49d6" stroke-width="1.1"/>
</g>
<g clip-path="url(#cd)">
<line x1="5" y1="507.5" x2="973" y2="507.5" stroke="#b8b8b8" stroke-width="1" stroke-dasharray="3.5,4.5"/>
<rect x="-0.2" y="503.1" width="2" height="4.8" fill="#a9c4c6"/>
<rect x="2.7" y="504.3" width="2" height="3.6" fill="#a9c4c6"/>
<rect x="5.6" y="505.6" width="2" height="2.3" fill="#a9c4c6"/>
<rect x="8.5" y="507.0" width="2" height="1.0" fill="#a9c4c6"/>
<rect x="11.5" y="507.9" width="2" height="1.0" fill="#d9764f"/>
<rect x="14.4" y="507.9" width="2" height="1.0" fill="#f1cfc6"/>
<rect x="17.3" y="507.9" width="2" height="1.0" fill="#f1cfc6"/>
<rect x="20.2" y="507.4" width="2" height="1.0" fill="#3d7480"/>
<rect x="23.2" y="507.0" width="2" height="1.0" fill="#3d7480"/>
<rect x="26.1" y="506.3" width="2" height="1.6" fill="#3d7480"/>
<rect x="29.0" y="505.8" width="2" height="2.1" fill="#3d7480"/>
<rect x="31.9" y="506.0" width="2" height="1.9" fill="#a9c4c6"/>
<rect x="34.8" y="505.8" width="2" height="2.1" fill="#3d7480"/>
<rect x="37.8" y="507.0" width="2" height="1.0" fill="#a9c4c6"/>
<rect x="40.7" y="507.9" width="2" height="1.0" fill="#d9764f"/>
<rect x="43.6" y="507.9" width="2" height="1.2" fill="#d9764f"/>
<rect x="46.5" y="507.9" width="2" height="2.4" fill="#d9764f"/>
<rect x="49.5" y="507.9" width="2" height="2.1" fill="#f1cfc6"/>
<rect x="52.4" y="507.9" width="2" height="1.3" fill="#f1cfc6"/>
<rect x="55.3" y="507.9" width="2" height="1.0" fill="#f1cfc6"/>
<rect x="58.2" y="507.9" width="2" height="1.0" fill="#f1cfc6"/>
<rect x="61.2" y="507.9" width="2" height="1.0" fill="#d9764f"/>
<rect x="64.1" y="507.9" width="2" height="1.0" fill="#d9764f"/>
<rect x="67.0" y="507.9" width="2" height="1.0" fill="#d9764f"/>
<rect x="69.9" y="507.9" width="2" height="1.0" fill="#f1cfc6"/>
<rect x="72.8" y="507.9" width="2" height="1.0" fill="#f1cfc6"/>
<rect x="75.8" y="507.2" width="2" height="1.0" fill="#3d7480"/>
<rect x="78.7" y="506.5" width="2" height="1.4" fill="#3d7480"/>
<rect x="81.6" y="505.9" width="2" height="2.0" fill="#3d7480"/>
<rect x="84.5" y="505.8" width="2" height="2.1" fill="#3d7480"/>
<rect x="87.5" y="505.5" width="2" height="2.4" fill="#3d7480"/>
<rect x="90.4" y="505.5" width="2" height="2.4" fill="#a9c4c6"/>
<rect x="93.3" y="505.5" width="2" height="2.4" fill="#3d7480"/>
<rect x="96.2" y="505.1" width="2" height="2.8" fill="#3d7480"/>
<rect x="99.2" y="504.8" width="2" height="3.1" fill="#3d7480"/>
<rect x="102.1" y="505.0" width="2" height="2.9" fill="#a9c4c6"/>
<rect x="105.0" y="505.0" width="2" height="2.9" fill="#a9c4c6"/>
<rect x="107.9" y="504.5" width="2" height="3.4" fill="#3d7480"/>
<rect x="110.8" y="504.9" width="2" height="3.0" fill="#a9c4c6"/>
<rect x="113.8" y="506.3" width="2" height="1.6" fill="#a9c4c6"/>
<rect x="116.7" y="506.2" width="2" height="1.7" fill="#3d7480"/>
<rect x="119.6" y="505.7" width="2" height="2.2" fill="#3d7480"/>
<rect x="122.5" y="506.2" width="2" height="1.7" fill="#a9c4c6"/>
<rect x="125.5" y="507.9" width="2" height="3.4" fill="#d9764f"/>
<rect x="128.4" y="507.9" width="2" height="6.3" fill="#d9764f"/>
<rect x="131.3" y="507.9" width="2" height="11.1" fill="#d9764f"/>
<rect x="134.2" y="507.9" width="2" height="18.4" fill="#d9764f"/>
<rect x="137.2" y="507.9" width="2" height="19.3" fill="#d9764f"/>
<rect x="140.1" y="507.9" width="2" height="19.4" fill="#d9764f"/>
<rect x="143.0" y="507.9" width="2" height="14.9" fill="#f1cfc6"/>
<rect x="145.9" y="507.9" width="2" height="10.3" fill="#f1cfc6"/>
<rect x="148.8" y="507.9" width="2" height="7.2" fill="#f1cfc6"/>
<rect x="151.8" y="507.9" width="2" height="4.8" fill="#f1cfc6"/>
<rect x="154.7" y="507.9" width="2" height="1.8" fill="#f1cfc6"/>
<rect x="157.6" y="507.9" width="2" height="1.0" fill="#f1cfc6"/>
<rect x="160.5" y="506.3" width="2" height="1.6" fill="#3d7480"/>
<rect x="163.5" y="504.0" width="2" height="3.9" fill="#3d7480"/>
<rect x="166.4" y="500.8" width="2" height="7.1" fill="#3d7480"/>
<rect x="169.3" y="500.9" width="2" height="7.0" fill="#a9c4c6"/>
<rect x="172.2" y="500.6" width="2" height="7.3" fill="#3d7480"/>
<rect x="175.2" y="501.8" width="2" height="6.1" fill="#a9c4c6"/>
<rect x="178.1" y="501.4" width="2" height="6.5" fill="#3d7480"/>
<rect x="181.0" y="500.8" width="2" height="7.1" fill="#3d7480"/>
<rect x="183.9" y="500.3" width="2" height="7.6" fill="#3d7480"/>
<rect x="186.8" y="500.5" width="2" height="7.4" fill="#a9c4c6"/>
<rect x="189.8" y="500.4" width="2" height="7.5" fill="#3d7480"/>
<rect x="192.7" y="499.8" width="2" height="8.1" fill="#3d7480"/>
<rect x="195.6" y="499.7" width="2" height="8.2" fill="#3d7480"/>
<rect x="198.5" y="499.8" width="2" height="8.1" fill="#a9c4c6"/>
<rect x="201.5" y="499.1" width="2" height="8.8" fill="#3d7480"/>
<rect x="204.4" y="500.2" width="2" height="7.7" fill="#a9c4c6"/>
<rect x="207.3" y="502.4" width="2" height="5.5" fill="#a9c4c6"/>
<rect x="210.2" y="504.5" width="2" height="3.4" fill="#a9c4c6"/>
<rect x="213.2" y="506.4" width="2" height="1.5" fill="#a9c4c6"/>
<rect x="216.1" y="507.3" width="2" height="1.0" fill="#a9c4c6"/>
<rect x="219.0" y="506.4" width="2" height="1.5" fill="#3d7480"/>
<rect x="221.9" y="506.1" width="2" height="1.8" fill="#3d7480"/>
<rect x="224.8" y="506.4" width="2" height="1.5" fill="#a9c4c6"/>
<rect x="227.8" y="507.9" width="2" height="1.2" fill="#d9764f"/>
<rect x="230.7" y="507.9" width="2" height="1.0" fill="#f1cfc6"/>
<rect x="233.6" y="506.7" width="2" height="1.2" fill="#3d7480"/>
<rect x="236.5" y="506.4" width="2" height="1.5" fill="#3d7480"/>
<rect x="239.5" y="505.5" width="2" height="2.4" fill="#3d7480"/>
<rect x="242.4" y="504.5" width="2" height="3.4" fill="#3d7480"/>
<rect x="245.3" y="504.7" width="2" height="3.2" fill="#a9c4c6"/>
<rect x="248.2" y="504.6" width="2" height="3.3" fill="#3d7480"/>
<rect x="251.2" y="505.0" width="2" height="2.9" fill="#a9c4c6"/>
<rect x="254.1" y="505.0" width="2" height="2.9" fill="#3d7480"/>
<rect x="257.0" y="504.5" width="2" height="3.4" fill="#3d7480"/>
<rect x="259.9" y="505.3" width="2" height="2.6" fill="#a9c4c6"/>
<rect x="262.8" y="505.3" width="2" height="2.6" fill="#3d7480"/>
<rect x="265.8" y="507.2" width="2" height="1.0" fill="#a9c4c6"/>
<rect x="268.7" y="506.6" width="2" height="1.3" fill="#3d7480"/>
<rect x="271.6" y="505.9" width="2" height="2.0" fill="#3d7480"/>
<rect x="274.5" y="506.2" width="2" height="1.7" fill="#a9c4c6"/>
<rect x="277.5" y="507.9" width="2" height="1.0" fill="#a9c4c6"/>
<rect x="280.4" y="507.9" width="2" height="1.0" fill="#d9764f"/>
<rect x="283.3" y="507.9" width="2" height="1.0" fill="#f1cfc6"/>
<rect x="286.2" y="507.9" width="2" height="1.0" fill="#d9764f"/>
<rect x="289.1" y="507.9" width="2" height="1.0" fill="#f1cfc6"/>
<rect x="292.1" y="507.8" width="2" height="1.0" fill="#3d7480"/>
<rect x="295.0" y="506.4" width="2" height="1.5" fill="#3d7480"/>
<rect x="297.9" y="505.2" width="2" height="2.7" fill="#3d7480"/>
<rect x="300.8" y="504.9" width="2" height="3.0" fill="#3d7480"/>
<rect x="303.8" y="505.1" width="2" height="2.8" fill="#a9c4c6"/>
<rect x="306.7" y="505.1" width="2" height="2.8" fill="#3d7480"/>
<rect x="309.6" y="506.1" width="2" height="1.8" fill="#a9c4c6"/>
<rect x="312.5" y="507.4" width="2" height="1.0" fill="#a9c4c6"/>
<rect x="315.5" y="507.9" width="2" height="1.0" fill="#d9764f"/>
<rect x="318.4" y="507.9" width="2" height="1.0" fill="#d9764f"/>
<rect x="321.3" y="507.9" width="2" height="1.0" fill="#d9764f"/>
<rect x="324.2" y="507.9" width="2" height="1.9" fill="#d9764f"/>
<rect x="327.1" y="507.9" width="2" height="1.6" fill="#f1cfc6"/>
<rect x="330.1" y="507.9" width="2" height="1.0" fill="#f1cfc6"/>
<rect x="333.0" y="507.9" width="2" height="1.0" fill="#f1cfc6"/>
<rect x="335.9" y="507.9" width="2" height="1.0" fill="#d9764f"/>
<rect x="338.8" y="507.9" width="2" height="1.0" fill="#f1cfc6"/>
<rect x="341.8" y="507.9" width="2" height="1.0" fill="#d9764f"/>
<rect x="344.7" y="507.9" width="2" height="1.0" fill="#f1cfc6"/>
<rect x="347.6" y="507.8" width="2" height="1.0" fill="#3d7480"/>
<rect x="350.5" y="507.9" width="2" height="1.0" fill="#d9764f"/>
<rect x="353.5" y="507.9" width="2" height="1.0" fill="#f1cfc6"/>
<rect x="356.4" y="507.7" width="2" height="1.0" fill="#3d7480"/>
<rect x="359.3" y="507.9" width="2" height="1.0" fill="#d9764f"/>
<rect x="362.2" y="507.9" width="2" height="2.0" fill="#d9764f"/>
<rect x="365.1" y="507.9" width="2" height="2.7" fill="#d9764f"/>
<rect x="368.1" y="507.9" width="2" height="4.3" fill="#d9764f"/>
<rect x="371.0" y="507.9" width="2" height="5.0" fill="#d9764f"/>
<rect x="373.9" y="507.9" width="2" height="4.4" fill="#f1cfc6"/>
<rect x="376.8" y="507.9" width="2" height="3.2" fill="#f1cfc6"/>
<rect x="379.8" y="507.9" width="2" height="1.7" fill="#f1cfc6"/>
<rect x="382.7" y="507.7" width="2" height="1.0" fill="#3d7480"/>
<rect x="385.6" y="506.9" width="2" height="1.0" fill="#3d7480"/>
<rect x="388.5" y="506.5" width="2" height="1.4" fill="#3d7480"/>
<rect x="391.5" y="507.8" width="2" height="1.0" fill="#a9c4c6"/>
<rect x="394.4" y="507.9" width="2" height="1.5" fill="#d9764f"/>
<rect x="397.3" y="507.9" width="2" height="1.0" fill="#f1cfc6"/>
<rect x="400.2" y="507.9" width="2" height="1.4" fill="#d9764f"/>
<rect x="403.1" y="507.9" width="2" height="1.0" fill="#f1cfc6"/>
<rect x="406.1" y="507.9" width="2" height="1.0" fill="#3d7480"/>
<rect x="409.0" y="507.9" width="2" height="1.0" fill="#d9764f"/>
<rect x="411.9" y="507.9" width="2" height="1.6" fill="#d9764f"/>
<rect x="414.8" y="507.9" width="2" height="5.4" fill="#d9764f"/>
<rect x="417.8" y="507.9" width="2" height="7.3" fill="#d9764f"/>
<rect x="420.7" y="507.9" width="2" height="7.4" fill="#d9764f"/>
<rect x="423.6" y="507.9" width="2" height="8.2" fill="#d9764f"/>
<rect x="426.5" y="507.9" width="2" height="9.3" fill="#d9764f"/>
<rect x="429.5" y="507.9" width="2" height="9.1" fill="#f1cfc6"/>
<rect x="432.4" y="507.9" width="2" height="9.3" fill="#d9764f"/>
<rect x="435.3" y="507.9" width="2" height="10.5" fill="#d9764f"/>
<rect x="438.2" y="507.9" width="2" height="7.7" fill="#f1cfc6"/>
<rect x="441.1" y="507.9" width="2" height="4.6" fill="#f1cfc6"/>
<rect x="444.1" y="507.9" width="2" height="2.4" fill="#f1cfc6"/>
<rect x="447.0" y="507.9" width="2" height="1.6" fill="#f1cfc6"/>
<rect x="449.9" y="507.9" width="2" height="2.1" fill="#d9764f"/>
<rect x="452.8" y="507.9" width="2" height="3.8" fill="#d9764f"/>
<rect x="455.8" y="507.9" width="2" height="6.3" fill="#d9764f"/>
<rect x="458.7" y="507.9" width="2" height="7.6" fill="#d9764f"/>
<rect x="461.6" y="507.9" width="2" height="9.2" fill="#d9764f"/>
<rect x="464.5" y="507.9" width="2" height="11.1" fill="#d9764f"/>
<rect x="467.5" y="507.9" width="2" height="8.6" fill="#f1cfc6"/>
<rect x="470.4" y="507.9" width="2" height="7.1" fill="#f1cfc6"/>
<rect x="473.3" y="507.9" width="2" height="8.1" fill="#d9764f"/>
<rect x="476.2" y="507.9" width="2" height="10.8" fill="#d9764f"/>
<rect x="479.1" y="507.9" width="2" height="9.0" fill="#f1cfc6"/>
<rect x="482.1" y="507.9" width="2" height="8.3" fill="#f1cfc6"/>
<rect x="485.0" y="507.9" width="2" height="6.3" fill="#f1cfc6"/>
<rect x="487.9" y="507.9" width="2" height="4.9" fill="#f1cfc6"/>
<rect x="490.8" y="507.9" width="2" height="2.4" fill="#f1cfc6"/>
<rect x="493.8" y="506.4" width="2" height="1.5" fill="#3d7480"/>
<rect x="496.7" y="503.6" width="2" height="4.3" fill="#3d7480"/>
<rect x="499.6" y="500.2" width="2" height="7.7" fill="#3d7480"/>
<rect x="502.5" y="499.0" width="2" height="8.9" fill="#3d7480"/>
<rect x="505.5" y="500.5" width="2" height="7.4" fill="#a9c4c6"/>
<rect x="508.4" y="503.2" width="2" height="4.7" fill="#a9c4c6"/>
<rect x="511.3" y="503.4" width="2" height="4.5" fill="#a9c4c6"/>
<rect x="514.2" y="505.8" width="2" height="2.1" fill="#a9c4c6"/>
<rect x="517.1" y="507.9" width="2" height="1.6" fill="#d9764f"/>
<rect x="520.1" y="507.9" width="2" height="5.0" fill="#d9764f"/>
<rect x="523.0" y="507.9" width="2" height="6.0" fill="#d9764f"/>
<rect x="525.9" y="507.9" width="2" height="6.8" fill="#d9764f"/>
<rect x="528.8" y="507.9" width="2" height="4.8" fill="#f1cfc6"/>
<rect x="531.8" y="507.9" width="2" height="1.3" fill="#f1cfc6"/>
<rect x="534.7" y="507.9" width="2" height="1.0" fill="#f1cfc6"/>
<rect x="537.6" y="504.9" width="2" height="3.0" fill="#3d7480"/>
<rect x="540.5" y="503.1" width="2" height="4.8" fill="#3d7480"/>
<rect x="543.5" y="501.3" width="2" height="6.6" fill="#3d7480"/>
<rect x="546.4" y="499.8" width="2" height="8.1" fill="#3d7480"/>
<rect x="549.3" y="500.8" width="2" height="7.1" fill="#a9c4c6"/>
<rect x="552.2" y="502.6" width="2" height="5.3" fill="#a9c4c6"/>
<rect x="555.1" y="504.0" width="2" height="3.9" fill="#a9c4c6"/>
<rect x="558.1" y="505.0" width="2" height="2.9" fill="#a9c4c6"/>
<rect x="561.0" y="505.1" width="2" height="2.8" fill="#a9c4c6"/>
<rect x="563.9" y="503.9" width="2" height="4.0" fill="#3d7480"/>
<rect x="566.8" y="503.6" width="2" height="4.3" fill="#3d7480"/>
<rect x="569.8" y="502.4" width="2" height="5.5" fill="#3d7480"/>
<rect x="572.7" y="501.1" width="2" height="6.8" fill="#3d7480"/>
<rect x="575.6" y="501.2" width="2" height="6.7" fill="#a9c4c6"/>
<rect x="578.5" y="501.6" width="2" height="6.3" fill="#a9c4c6"/>
<rect x="581.4" y="503.5" width="2" height="4.4" fill="#a9c4c6"/>
<rect x="584.4" y="504.1" width="2" height="3.8" fill="#a9c4c6"/>
<rect x="587.3" y="506.8" width="2" height="1.1" fill="#a9c4c6"/>
<rect x="590.2" y="507.9" width="2" height="1.0" fill="#a9c4c6"/>
<rect x="593.1" y="507.9" width="2" height="1.0" fill="#d9764f"/>
<rect x="596.1" y="506.3" width="2" height="1.6" fill="#3d7480"/>
<rect x="599.0" y="505.5" width="2" height="2.4" fill="#3d7480"/>
<rect x="601.9" y="504.7" width="2" height="3.2" fill="#3d7480"/>
<rect x="604.8" y="504.4" width="2" height="3.5" fill="#3d7480"/>
<rect x="607.8" y="504.0" width="2" height="3.9" fill="#3d7480"/>
<rect x="610.7" y="504.4" width="2" height="3.5" fill="#a9c4c6"/>
<rect x="613.6" y="505.0" width="2" height="2.9" fill="#a9c4c6"/>
<rect x="616.5" y="504.8" width="2" height="3.1" fill="#3d7480"/>
<rect x="619.4" y="504.8" width="2" height="3.1" fill="#3d7480"/>
<rect x="622.4" y="504.0" width="2" height="3.9" fill="#3d7480"/>
<rect x="625.3" y="503.6" width="2" height="4.3" fill="#3d7480"/>
<rect x="628.2" y="502.4" width="2" height="5.5" fill="#3d7480"/>
<rect x="631.1" y="502.7" width="2" height="5.2" fill="#a9c4c6"/>
<rect x="634.1" y="502.1" width="2" height="5.8" fill="#3d7480"/>
<rect x="637.0" y="502.7" width="2" height="5.2" fill="#a9c4c6"/>
<rect x="639.9" y="502.3" width="2" height="5.6" fill="#3d7480"/>
<rect x="642.8" y="502.1" width="2" height="5.8" fill="#3d7480"/>
<rect x="645.8" y="501.9" width="2" height="6.0" fill="#3d7480"/>
<rect x="648.7" y="503.5" width="2" height="4.4" fill="#a9c4c6"/>
<rect x="651.6" y="505.0" width="2" height="2.9" fill="#a9c4c6"/>
<rect x="654.5" y="507.5" width="2" height="1.0" fill="#a9c4c6"/>
<rect x="657.4" y="507.9" width="2" height="1.0" fill="#d9764f"/>
<rect x="660.4" y="507.9" width="2" height="1.0" fill="#f1cfc6"/>
<rect x="663.3" y="507.9" width="2" height="1.2" fill="#d9764f"/>
<rect x="666.2" y="507.9" width="2" height="1.8" fill="#d9764f"/>
<rect x="669.1" y="507.9" width="2" height="3.8" fill="#d9764f"/>
<rect x="672.1" y="507.9" width="2" height="5.4" fill="#d9764f"/>
<rect x="675.0" y="507.9" width="2" height="6.1" fill="#d9764f"/>
<rect x="677.9" y="507.9" width="2" height="6.1" fill="#d9764f"/>
<rect x="680.8" y="507.9" width="2" height="7.1" fill="#d9764f"/>
<rect x="683.8" y="507.9" width="2" height="8.8" fill="#d9764f"/>
<rect x="686.7" y="507.9" width="2" height="6.6" fill="#f1cfc6"/>
<rect x="689.6" y="507.9" width="2" height="4.3" fill="#f1cfc6"/>
<rect x="692.5" y="507.9" width="2" height="1.5" fill="#f1cfc6"/>
<rect x="695.4" y="507.1" width="2" height="1.0" fill="#3d7480"/>
<rect x="698.4" y="505.4" width="2" height="2.5" fill="#3d7480"/>
<rect x="701.3" y="504.4" width="2" height="3.5" fill="#3d7480"/>
<rect x="704.2" y="502.7" width="2" height="5.2" fill="#3d7480"/>
<rect x="707.1" y="501.5" width="2" height="6.4" fill="#3d7480"/>
<rect x="710.1" y="501.1" width="2" height="6.8" fill="#3d7480"/>
<rect x="713.0" y="502.1" width="2" height="5.8" fill="#a9c4c6"/>
<rect x="715.9" y="502.2" width="2" height="5.7" fill="#a9c4c6"/>
<rect x="718.8" y="502.0" width="2" height="5.9" fill="#3d7480"/>
<rect x="721.8" y="501.8" width="2" height="6.1" fill="#3d7480"/>
<rect x="724.7" y="501.4" width="2" height="6.5" fill="#3d7480"/>
<rect x="727.6" y="500.8" width="2" height="7.1" fill="#3d7480"/>
<rect x="730.5" y="501.6" width="2" height="6.3" fill="#a9c4c6"/>
<path d="M0.8,497.4 L3.7,497.7 L6.6,498.4 L9.5,499.6 L12.5,501.7 L15.4,501.6 L18.3,501.4 L21.2,500.3 L24.2,499.8 L27.1,498.7 L30.0,497.6 L32.9,497.4 L35.8,496.6 L38.8,497.5 L41.7,498.6 L44.6,500.0 L47.5,501.7 L50.5,502.0 L53.4,501.5 L56.3,500.8 L59.2,500.5 L62.2,500.9 L65.1,501.3 L68.0,501.5 L70.9,501.5 L73.8,501.0 L76.8,500.1 L79.7,499.0 L82.6,497.9 L85.5,497.3 L88.5,496.4 L91.4,495.9 L94.3,495.2 L97.2,494.0 L100.2,493.0 L103.1,492.5 L106.0,491.8 L108.9,490.4 L111.8,490.1 L114.8,491.1 L117.7,490.5 L120.6,489.5 L123.5,489.5 L126.5,495.5 L129.4,500.0 L132.3,507.5 L135.2,519.4 L138.2,525.1 L141.1,530.2 L144.0,529.4 L146.9,527.3 L149.8,526.0 L152.8,524.8 L155.7,522.3 L158.6,521.1 L161.5,518.7 L164.5,515.3 L167.4,510.4 L170.3,508.7 L173.2,506.6 L176.2,506.3 L179.1,504.3 L182.0,501.9 L184.9,499.5 L187.8,497.9 L190.8,495.9 L193.7,493.3 L196.6,491.1 L199.5,489.2 L202.5,486.3 L205.4,485.4 L208.3,486.3 L211.2,487.6 L214.2,489.1 L217.1,489.8 L220.0,488.6 L222.9,487.8 L225.8,487.7 L228.8,490.7 L231.7,489.7 L234.6,488.0 L237.5,487.3 L240.5,485.8 L243.4,484.0 L246.3,483.4 L249.2,482.5 L252.2,482.2 L255.1,481.4 L258.0,480.1 L260.9,480.3 L263.8,479.6 L266.8,481.3 L269.7,480.4 L272.6,479.2 L275.5,479.1 L278.5,480.7 L281.4,481.9 L284.3,481.5 L287.2,482.0 L290.1,481.8 L293.1,481.3 L296.0,479.5 L298.9,477.6 L301.8,476.6 L304.8,476.1 L307.7,475.3 L310.6,475.9 L313.5,477.1 L316.5,477.6 L319.4,478.0 L322.3,478.3 L325.2,480.2 L328.1,480.2 L331.1,479.5 L334.0,479.0 L336.9,479.6 L339.8,479.1 L342.8,479.3 L345.7,479.2 L348.6,478.9 L351.5,479.5 L354.5,479.2 L357.4,478.9 L360.3,480.2 L363.2,481.9 L366.1,483.2 L369.1,485.9 L372.0,487.8 L374.9,488.3 L377.8,487.9 L380.8,486.8 L383.7,484.9 L386.6,483.9 L389.5,483.1 L392.5,484.3 L395.4,486.4 L398.3,485.7 L401.2,486.7 L404.1,486.2 L407.1,485.5 L410.0,486.5 L412.9,487.7 L415.8,492.8 L418.8,496.5 L421.7,498.5 L424.6,501.4 L427.5,504.8 L430.5,506.9 L433.4,509.5 L436.3,513.3 L439.2,512.3 L442.1,510.4 L445.1,508.8 L448.0,508.4 L450.9,509.5 L453.8,512.1 L456.8,516.2 L459.7,519.4 L462.6,523.3 L465.5,528.0 L468.5,527.6 L471.4,527.8 L474.3,530.9 L477.2,536.3 L480.1,536.8 L483.1,538.1 L486.0,537.6 L488.9,537.5 L491.8,535.6 L494.8,531.3 L497.7,527.4 L500.6,522.2 L503.5,518.7 L506.5,518.3 L509.4,519.9 L512.3,518.9 L515.2,520.9 L518.1,524.9 L521.1,529.5 L524.0,532.1 L526.9,534.6 L529.8,533.8 L532.8,530.7 L535.7,529.9 L538.6,525.7 L541.5,522.7 L544.5,519.2 L547.4,515.7 L550.3,514.9 L553.2,515.4 L556.1,515.8 L559.1,516.1 L562.0,515.5 L564.9,513.3 L567.8,511.9 L570.8,509.4 L573.7,506.4 L576.6,504.7 L579.5,503.6 L582.4,504.5 L585.4,504.0 L588.3,506.4 L591.2,507.5 L594.1,507.6 L597.1,505.6 L600.0,504.1 L602.9,502.5 L605.8,501.4 L608.8,500.0 L611.7,499.6 L614.6,499.5 L617.5,498.5 L620.4,497.6 L623.4,495.9 L626.3,494.5 L629.2,491.9 L632.1,490.9 L635.1,488.8 L638.0,488.2 L640.9,486.3 L643.8,484.7 L646.8,482.9 L649.7,483.4 L652.6,484.3 L655.5,486.6 L658.4,488.2 L661.4,488.0 L664.3,488.9 L667.2,490.0 L670.1,492.9 L673.1,495.9 L676.0,498.1 L678.9,499.6 L681.8,502.4 L684.8,506.3 L687.7,505.7 L690.6,504.5 L693.5,502.1 L696.4,499.6 L699.4,497.2 L702.3,495.3 L705.2,492.3 L708.1,489.6 L711.1,487.4 L714.0,487.1 L716.9,485.7 L719.8,484.1 L722.8,482.3 L725.7,480.2 L728.6,477.9 L731.5,477.1" fill="none" stroke="#6b5cec" stroke-width="1.2"/>
<path d="M0.8,502.2 L3.7,501.3 L6.6,500.7 L9.5,500.5 L12.5,500.7 L15.4,500.9 L18.3,501.0 L21.2,500.9 L24.2,500.6 L27.1,500.2 L30.0,499.7 L32.9,499.2 L35.8,498.7 L38.8,498.5 L41.7,498.5 L44.6,498.8 L47.5,499.4 L50.5,499.9 L53.4,500.2 L56.3,500.4 L59.2,500.4 L62.2,500.5 L65.1,500.7 L68.0,500.8 L70.9,501.0 L73.8,501.0 L76.8,500.8 L79.7,500.4 L82.6,499.9 L85.5,499.4 L88.5,498.8 L91.4,498.2 L94.3,497.6 L97.2,496.9 L100.2,496.1 L103.1,495.4 L106.0,494.7 L108.9,493.8 L111.8,493.1 L114.8,492.7 L117.7,492.2 L120.6,491.7 L123.5,491.3 L126.5,492.1 L129.4,493.7 L132.3,496.5 L135.2,501.0 L138.2,505.9 L141.1,510.7 L144.0,514.5 L146.9,517.0 L149.8,518.8 L152.8,520.0 L155.7,520.5 L158.6,520.6 L161.5,520.2 L164.5,519.2 L167.4,517.5 L170.3,515.7 L173.2,513.9 L176.2,512.4 L179.1,510.7 L182.0,509.0 L184.9,507.1 L187.8,505.2 L190.8,503.4 L193.7,501.3 L196.6,499.3 L199.5,497.3 L202.5,495.1 L205.4,493.1 L208.3,491.8 L211.2,490.9 L214.2,490.6 L217.1,490.4 L220.0,490.0 L222.9,489.6 L225.8,489.2 L228.8,489.5 L231.7,489.5 L234.6,489.2 L237.5,488.9 L240.5,488.3 L243.4,487.4 L246.3,486.6 L249.2,485.8 L252.2,485.1 L255.1,484.3 L258.0,483.5 L260.9,482.8 L263.8,482.2 L266.8,482.0 L269.7,481.7 L272.6,481.2 L275.5,480.8 L278.5,480.8 L281.4,481.0 L284.3,481.1 L287.2,481.3 L290.1,481.4 L293.1,481.4 L296.0,481.0 L298.9,480.3 L301.8,479.6 L304.8,478.9 L307.7,478.2 L310.6,477.7 L313.5,477.6 L316.5,477.6 L319.4,477.7 L322.3,477.8 L325.2,478.3 L328.1,478.7 L331.1,478.8 L334.0,478.9 L336.9,479.0 L339.8,479.0 L342.8,479.1 L345.7,479.1 L348.6,479.1 L351.5,479.2 L354.5,479.2 L357.4,479.1 L360.3,479.3 L363.2,479.8 L366.1,480.5 L369.1,481.6 L372.0,482.8 L374.9,483.9 L377.8,484.7 L380.8,485.1 L383.7,485.1 L386.6,484.9 L389.5,484.5 L392.5,484.5 L395.4,484.9 L398.3,485.0 L401.2,485.4 L404.1,485.5 L407.1,485.5 L410.0,485.7 L412.9,486.1 L415.8,487.5 L418.8,489.3 L421.7,491.1 L424.6,493.2 L427.5,495.5 L430.5,497.8 L433.4,500.1 L436.3,502.7 L439.2,504.7 L442.1,505.8 L445.1,506.4 L448.0,506.8 L450.9,507.3 L453.8,508.3 L456.8,509.9 L459.7,511.8 L462.6,514.1 L465.5,516.9 L468.5,519.0 L471.4,520.8 L474.3,522.8 L477.2,525.5 L480.1,527.7 L483.1,529.8 L486.0,531.4 L488.9,532.6 L491.8,533.2 L494.8,532.8 L497.7,531.7 L500.6,529.8 L503.5,527.6 L506.5,525.7 L509.4,524.6 L512.3,523.4 L515.2,522.9 L518.1,523.3 L521.1,524.6 L524.0,526.1 L526.9,527.8 L529.8,529.0 L532.8,529.3 L535.7,529.4 L538.6,528.7 L541.5,527.5 L544.5,525.8 L547.4,523.8 L550.3,522.0 L553.2,520.7 L556.1,519.7 L559.1,519.0 L562.0,518.3 L564.9,517.3 L567.8,516.2 L570.8,514.9 L573.7,513.2 L576.6,511.5 L579.5,509.9 L582.4,508.8 L585.4,507.9 L588.3,507.6 L591.2,507.6 L594.1,507.6 L597.1,507.2 L600.0,506.6 L602.9,505.8 L605.8,504.9 L608.8,503.9 L611.7,503.0 L614.6,502.3 L617.5,501.6 L620.4,500.8 L623.4,499.8 L626.3,498.7 L629.2,497.4 L632.1,496.1 L635.1,494.6 L638.0,493.3 L640.9,491.9 L643.8,490.5 L646.8,489.0 L649.7,487.9 L652.6,487.1 L655.5,487.0 L658.4,487.3 L661.4,487.4 L664.3,487.7 L667.2,488.2 L670.1,489.1 L673.1,490.5 L676.0,492.0 L678.9,493.5 L681.8,495.3 L684.8,497.5 L687.7,499.1 L690.6,500.2 L693.5,500.6 L696.4,500.4 L699.4,499.7 L702.3,498.9 L705.2,497.6 L708.1,496.0 L711.1,494.3 L714.0,492.8 L716.9,491.4 L719.8,489.9 L722.8,488.4 L725.7,486.8 L728.6,485.0 L731.5,483.4" fill="none" stroke="#aaa33a" stroke-width="1.2"/>
</g>
<!-- frame -->
<rect x="5" y="33" width="1014.3" height="529.2" fill="none" stroke="#d9d372" stroke-width="1.8"/>
<line x1="973.5" y1="33" x2="973.5" y2="562" stroke="#d8d274" stroke-width="1.2"/>
<line x1="5" y1="462.4" x2="1019" y2="462.4" stroke="#d8d274" stroke-width="1.2"/>
<line x1="5" y1="540.8" x2="1019" y2="540.8" stroke="#d8d274" stroke-width="1.2"/>
<!-- annotations -->
<circle cx="732" cy="118" r="17.5" fill="none" stroke="#333333" stroke-width="1.1"/>
<circle cx="732" cy="154.5" r="17.5" fill="none" stroke="#333333" stroke-width="1.1"/>
<path d="M732.5 97 V81.5 H665.5" fill="none" stroke="#333333" stroke-width="1.1"/>
<path d="M670 77 L665.5 81.5 L670 86" fill="none" stroke="#333333" stroke-width="1.1"/>
<path d="M755 151.5 H805.5 V215" fill="none" stroke="#333333" stroke-width="1.1"/>
<path d="M801 210.5 L805.5 215 L810 210.5" fill="none" stroke="#333333" stroke-width="1.1"/>
<text x="538.4" y="85" font-size="13" textLength="110.5" lengthAdjust="spacingAndGlyphs" fill="#2d2d2d">Dynamic Resistance</text>
<text x="760.5" y="241.2" font-size="13" textLength="95.5" lengthAdjust="spacingAndGlyphs" fill="#2d2d2d">Dynamic Support</text>

<text x="11.6" y="48.9" font-size="9.5" font-weight="bold" textLength="120.8" lengthAdjust="spacingAndGlyphs" fill="#3838a8">S&amp;P 500 Index, 1W, OANDA</text>

<rect x="976.5" y="39.7" width="38.8" height="16" rx="2" fill="none" stroke="#ededf2" stroke-width="0.8"/>
<text x="983.7" y="49.6" font-size="10" textLength="17.8" lengthAdjust="spacingAndGlyphs" fill="#1e1e22">USD</text>
<g class="ax">
<text x="979.8" y="90.8" textLength="30" lengthAdjust="spacingAndGlyphs">5400.0</text>
<text x="979.8" y="159.3" textLength="30" lengthAdjust="spacingAndGlyphs">4800.0</text>
<text x="979.8" y="209.9" textLength="30" lengthAdjust="spacingAndGlyphs">4400.0</text>
<text x="979.8" y="237" textLength="30" lengthAdjust="spacingAndGlyphs">4200.0</text>
<text x="979.8" y="265.3" textLength="30" lengthAdjust="spacingAndGlyphs">4000.0</text>
<text x="979.8" y="295.2" textLength="30" lengthAdjust="spacingAndGlyphs">3800.0</text>
<text x="979.8" y="326.6" textLength="30" lengthAdjust="spacingAndGlyphs">3600.0</text>
<text x="979.8" y="351.4" textLength="30" lengthAdjust="spacingAndGlyphs">3450.0</text>
<text x="979.8" y="378.9" textLength="30" lengthAdjust="spacingAndGlyphs">3290.0</text>
<text x="979.8" y="406.1" textLength="30" lengthAdjust="spacingAndGlyphs">3140.0</text>
<text x="979.8" y="432.7" textLength="30" lengthAdjust="spacingAndGlyphs">3000.0</text>
<text x="979.8" y="456.4" textLength="30" lengthAdjust="spacingAndGlyphs">2880.0</text>
</g>
<!-- price labels -->
<rect x="973.5" y="110" width="41" height="12" rx="1.5" fill="#4b5cf2"/>
<text class="lt" x="979.3" y="119.4" textLength="30.5" lengthAdjust="spacingAndGlyphs">5136.9</text>
<rect x="973.5" y="128.5" width="41" height="12" rx="1.5" fill="#d6a31f"/>
<text class="lt" x="979.3" y="137.9" textLength="30.5" lengthAdjust="spacingAndGlyphs" style="fill:#3b2300">4976.0</text>
<rect x="973.5" y="143" width="41" height="11.6" rx="1.5" fill="#3b2cef"/>
<text class="lt" x="979.3" y="152.3" textLength="30.5" lengthAdjust="spacingAndGlyphs">4855.1</text>
<rect x="973.5" y="171.3" width="41" height="12.2" rx="1.5" fill="#ee7424"/>
<text class="lt" x="979.3" y="180.9" textLength="30.5" lengthAdjust="spacingAndGlyphs">4622.1</text>
<rect x="973.5" y="239.3" width="41" height="12" rx="1.5" fill="#4b5cf2"/>
<text class="lt" x="979.3" y="248.8" textLength="30.5" lengthAdjust="spacingAndGlyphs">4107.2</text>
<rect x="973.5" y="453.5" width="41" height="9.5" rx="1" fill="#b5690f"/>
<text class="lt" x="979" y="462" textLength="31" lengthAdjust="spacingAndGlyphs">52.81K</text>
<rect x="973.5" y="464.5" width="35.3" height="12.6" rx="1.5" fill="#4b50ef"/>
<text class="lt" x="980.5" y="474.4" textLength="23.5" lengthAdjust="spacingAndGlyphs">164.4</text>
<rect x="973.5" y="478.3" width="35.3" height="11.6" rx="1.5" fill="#ee7424"/>
<text class="lt" x="980.5" y="487.7" textLength="23.5" lengthAdjust="spacingAndGlyphs">131.1</text>
<text x="980.5" y="511.3" font-size="9.5" fill="#5a55b5" textLength="14" lengthAdjust="spacingAndGlyphs">0.0</text>
<rect x="973.5" y="495.8" width="29.5" height="11.9" rx="1.5" fill="#c4d0d2"/>
<text x="980" y="505.3" font-size="9.3" fill="#1f2a2a" textLength="18" lengthAdjust="spacingAndGlyphs">33.4</text>

<!-- time axis -->
<text class="tm" x="8.3" y="555.1" textLength="14.6" lengthAdjust="spacingAndGlyphs">Jun</text>
<text class="yr" x="94.6" y="555.1" textLength="22.8" lengthAdjust="spacingAndGlyphs">2020</text>
<text class="tm" x="160.3" y="555.1" textLength="14.6" lengthAdjust="spacingAndGlyphs">Jun</text>
<text class="yr" x="246.6" y="555.1" textLength="22.8" lengthAdjust="spacingAndGlyphs">2021</text>
<text class="tm" x="315.2" y="555.1" textLength="14.6" lengthAdjust="spacingAndGlyphs">Jun</text>
<text class="yr" x="398.6" y="555.1" textLength="22.8" lengthAdjust="spacingAndGlyphs">2022</text>
<text class="tm" x="467.7" y="555.1" textLength="14.6" lengthAdjust="spacingAndGlyphs">Jun</text>
<text class="yr" x="550.6" y="555.1" textLength="22.8" lengthAdjust="spacingAndGlyphs">2023</text>
<text class="tm" x="619.7" y="555.1" textLength="14.6" lengthAdjust="spacingAndGlyphs">Jun</text>
<text class="yr" x="702.6" y="555.1" textLength="22.8" lengthAdjust="spacingAndGlyphs">2024</text>
<text class="tm" x="771.7" y="555.1" textLength="14.6" lengthAdjust="spacingAndGlyphs">Jun</text>
<text class="yr" x="857.6" y="555.1" textLength="22.8" lengthAdjust="spacingAndGlyphs">2025</text>
<text class="tm" x="923.7" y="555.1" textLength="14.6" lengthAdjust="spacingAndGlyphs">Jun</text>

<!-- logo -->
<path d="M4.9 571.1 H10.8 V579.9 H8 V574.5 H4.9 Z" fill="#131722"/>
<circle cx="14.2" cy="573" r="1.4" fill="#131722"/>
<path d="M14.9 579.9 H18.3 L20.9 571.1 H17.5 Z" fill="#131722"/>
<text x="26" y="580" font-size="11.6" textLength="68.6" lengthAdjust="spacingAndGlyphs" fill="#131722" stroke="#131722" stroke-width="0.45">TradingView</text>
</svg>
</body></html>
